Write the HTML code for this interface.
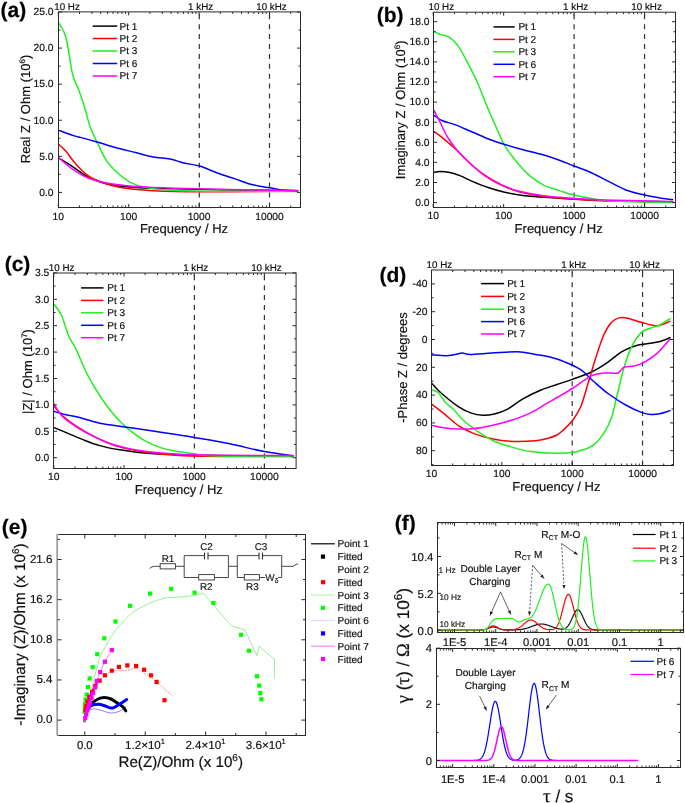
<!DOCTYPE html>
<html><head><meta charset="utf-8"><style>html,body{margin:0;padding:0;background:#fff;width:685px;height:803px;overflow:hidden}svg{display:block;will-change:transform}text{font-family:"Liberation Sans", sans-serif;text-rendering:geometricPrecision;stroke:currentColor;stroke-width:0.18px}</style></head>
<body><svg width="685" height="803" viewBox="0 0 685 803" font-family='"Liberation Sans", sans-serif'>
<rect width="685" height="803" fill="#fff"/>
<clipPath id="ca"><rect x="58.5" y="11.9" width="242" height="195.6"/></clipPath>
<line x1="199.3" y1="14.3" x2="199.3" y2="207" stroke="#333" stroke-width="1.2" stroke-dasharray="5 4.9"/>
<line x1="269.5" y1="14.3" x2="269.5" y2="207" stroke="#333" stroke-width="1.2" stroke-dasharray="5 4.9"/>
<g clip-path="url(#ca)">
<path d="M58.5,157.8 C60.83,159.27 67.25,163.23 72.5,166.6 C77.75,169.97 83.28,174.93 90,178 C96.72,181.07 104.47,183.37 112.8,185 C121.13,186.63 129.63,187.17 140,187.8 C150.37,188.43 160,188.43 175,188.8 C190,189.17 209.53,189.67 230,190 C250.47,190.33 286.5,190.67 297.8,190.8" fill="none" stroke="#000000" stroke-width="1.5" stroke-linejoin="round" stroke-linecap="round" />
<path d="M58.5,144.2 C59.82,145.45 63.77,148.7 66.4,151.7 C69.03,154.7 70.37,157.98 74.3,162.2 C78.23,166.42 83.58,173.07 90,177 C96.42,180.93 105.5,183.75 112.8,185.8 C120.1,187.85 123.43,188.33 133.8,189.3 C144.17,190.27 158.97,191.18 175,191.6 C191.03,192.02 209.53,191.87 230,191.8 C250.47,191.73 286.5,191.3 297.8,191.2" fill="none" stroke="#ff0000" stroke-width="1.5" stroke-linejoin="round" stroke-linecap="round" />
<path d="M58.5,22.6 C59.73,25.03 63.57,28.63 65.9,37.2 C68.23,45.77 70.37,65.25 72.5,74 C74.63,82.75 76.65,84.03 78.7,89.7 C80.75,95.37 82.92,101.9 84.8,108 C86.68,114.1 87.97,120.63 90,126.3 C92.03,131.97 94.37,136.45 97,142 C99.63,147.55 102.58,154.63 105.8,159.6 C109.02,164.57 112.22,168.02 116.3,171.8 C120.38,175.58 125.35,179.67 130.3,182.3 C135.25,184.93 138.55,186.22 146,187.6 C153.45,188.98 162.67,190 175,190.6 C187.33,191.2 199.53,191.07 220,191.2 C240.47,191.33 284.83,191.37 297.8,191.4" fill="none" stroke="#22ee22" stroke-width="1.5" stroke-linejoin="round" stroke-linecap="round" />
<path d="M58.5,130.1 C61.13,131.07 70.5,134.65 74.3,135.9 C78.1,137.15 77.52,136.58 81.3,137.6 C85.08,138.62 91.45,140.38 97,142 C102.55,143.62 108.17,145.53 114.6,147.3 C121.03,149.07 129.2,150.98 135.6,152.6 C142,154.22 147.27,155.93 153,157 C158.73,158.07 164.87,158 170,159 C175.13,160 178.87,161.83 183.8,163 C188.73,164.17 194.02,164.33 199.6,166 C205.18,167.67 211.4,170.85 217.3,173 C223.2,175.15 229.08,176.93 235,178.9 C240.92,180.87 247.05,183.33 252.8,184.8 C258.55,186.27 264.9,186.88 269.5,187.7 C274.1,188.52 275.82,189.18 280.4,189.7 C284.98,190.22 294.23,190.62 297,190.8" fill="none" stroke="#0000ff" stroke-width="1.5" stroke-linejoin="round" stroke-linecap="round" />
<path d="M58.5,157.5 C60.83,159.45 67.25,165.65 72.5,169.2 C77.75,172.75 83.28,176.33 90,178.8 C96.72,181.27 104.47,182.67 112.8,184 C121.13,185.33 129.63,186.1 140,186.8 C150.37,187.5 160,187.77 175,188.2 C190,188.63 209.53,189 230,189.4 C250.47,189.8 286.5,190.4 297.8,190.6" fill="none" stroke="#ff00ff" stroke-width="1.5" stroke-linejoin="round" stroke-linecap="round" />
</g>
<rect x="58.5" y="11.9" width="242" height="195.6" fill="none" stroke="#2a2a2a" stroke-width="1"/>
<line x1="58.3" y1="207.5" x2="58.3" y2="204" stroke="#2a2a2a" stroke-width="1" />
<line x1="58.3" y1="11.9" x2="58.3" y2="15.4" stroke="#2a2a2a" stroke-width="1" />
<line x1="128.7" y1="207.5" x2="128.7" y2="204" stroke="#2a2a2a" stroke-width="1" />
<line x1="128.7" y1="11.9" x2="128.7" y2="15.4" stroke="#2a2a2a" stroke-width="1" />
<line x1="199.1" y1="207.5" x2="199.1" y2="204" stroke="#2a2a2a" stroke-width="1" />
<line x1="199.1" y1="11.9" x2="199.1" y2="15.4" stroke="#2a2a2a" stroke-width="1" />
<line x1="269.5" y1="207.5" x2="269.5" y2="204" stroke="#2a2a2a" stroke-width="1" />
<line x1="269.5" y1="11.9" x2="269.5" y2="15.4" stroke="#2a2a2a" stroke-width="1" />
<line x1="79.49" y1="207.5" x2="79.49" y2="205.5" stroke="#2a2a2a" stroke-width="1" />
<line x1="79.49" y1="11.9" x2="79.49" y2="13.9" stroke="#2a2a2a" stroke-width="1" />
<line x1="91.89" y1="207.5" x2="91.89" y2="205.5" stroke="#2a2a2a" stroke-width="1" />
<line x1="91.89" y1="11.9" x2="91.89" y2="13.9" stroke="#2a2a2a" stroke-width="1" />
<line x1="100.69" y1="207.5" x2="100.69" y2="205.5" stroke="#2a2a2a" stroke-width="1" />
<line x1="100.69" y1="11.9" x2="100.69" y2="13.9" stroke="#2a2a2a" stroke-width="1" />
<line x1="107.51" y1="207.5" x2="107.51" y2="205.5" stroke="#2a2a2a" stroke-width="1" />
<line x1="107.51" y1="11.9" x2="107.51" y2="13.9" stroke="#2a2a2a" stroke-width="1" />
<line x1="113.08" y1="207.5" x2="113.08" y2="205.5" stroke="#2a2a2a" stroke-width="1" />
<line x1="113.08" y1="11.9" x2="113.08" y2="13.9" stroke="#2a2a2a" stroke-width="1" />
<line x1="117.79" y1="207.5" x2="117.79" y2="205.5" stroke="#2a2a2a" stroke-width="1" />
<line x1="117.79" y1="11.9" x2="117.79" y2="13.9" stroke="#2a2a2a" stroke-width="1" />
<line x1="121.88" y1="207.5" x2="121.88" y2="205.5" stroke="#2a2a2a" stroke-width="1" />
<line x1="121.88" y1="11.9" x2="121.88" y2="13.9" stroke="#2a2a2a" stroke-width="1" />
<line x1="125.48" y1="207.5" x2="125.48" y2="205.5" stroke="#2a2a2a" stroke-width="1" />
<line x1="125.48" y1="11.9" x2="125.48" y2="13.9" stroke="#2a2a2a" stroke-width="1" />
<line x1="149.89" y1="207.5" x2="149.89" y2="205.5" stroke="#2a2a2a" stroke-width="1" />
<line x1="149.89" y1="11.9" x2="149.89" y2="13.9" stroke="#2a2a2a" stroke-width="1" />
<line x1="162.29" y1="207.5" x2="162.29" y2="205.5" stroke="#2a2a2a" stroke-width="1" />
<line x1="162.29" y1="11.9" x2="162.29" y2="13.9" stroke="#2a2a2a" stroke-width="1" />
<line x1="171.09" y1="207.5" x2="171.09" y2="205.5" stroke="#2a2a2a" stroke-width="1" />
<line x1="171.09" y1="11.9" x2="171.09" y2="13.9" stroke="#2a2a2a" stroke-width="1" />
<line x1="177.91" y1="207.5" x2="177.91" y2="205.5" stroke="#2a2a2a" stroke-width="1" />
<line x1="177.91" y1="11.9" x2="177.91" y2="13.9" stroke="#2a2a2a" stroke-width="1" />
<line x1="183.48" y1="207.5" x2="183.48" y2="205.5" stroke="#2a2a2a" stroke-width="1" />
<line x1="183.48" y1="11.9" x2="183.48" y2="13.9" stroke="#2a2a2a" stroke-width="1" />
<line x1="188.19" y1="207.5" x2="188.19" y2="205.5" stroke="#2a2a2a" stroke-width="1" />
<line x1="188.19" y1="11.9" x2="188.19" y2="13.9" stroke="#2a2a2a" stroke-width="1" />
<line x1="192.28" y1="207.5" x2="192.28" y2="205.5" stroke="#2a2a2a" stroke-width="1" />
<line x1="192.28" y1="11.9" x2="192.28" y2="13.9" stroke="#2a2a2a" stroke-width="1" />
<line x1="195.88" y1="207.5" x2="195.88" y2="205.5" stroke="#2a2a2a" stroke-width="1" />
<line x1="195.88" y1="11.9" x2="195.88" y2="13.9" stroke="#2a2a2a" stroke-width="1" />
<line x1="220.29" y1="207.5" x2="220.29" y2="205.5" stroke="#2a2a2a" stroke-width="1" />
<line x1="220.29" y1="11.9" x2="220.29" y2="13.9" stroke="#2a2a2a" stroke-width="1" />
<line x1="232.69" y1="207.5" x2="232.69" y2="205.5" stroke="#2a2a2a" stroke-width="1" />
<line x1="232.69" y1="11.9" x2="232.69" y2="13.9" stroke="#2a2a2a" stroke-width="1" />
<line x1="241.49" y1="207.5" x2="241.49" y2="205.5" stroke="#2a2a2a" stroke-width="1" />
<line x1="241.49" y1="11.9" x2="241.49" y2="13.9" stroke="#2a2a2a" stroke-width="1" />
<line x1="248.31" y1="207.5" x2="248.31" y2="205.5" stroke="#2a2a2a" stroke-width="1" />
<line x1="248.31" y1="11.9" x2="248.31" y2="13.9" stroke="#2a2a2a" stroke-width="1" />
<line x1="253.88" y1="207.5" x2="253.88" y2="205.5" stroke="#2a2a2a" stroke-width="1" />
<line x1="253.88" y1="11.9" x2="253.88" y2="13.9" stroke="#2a2a2a" stroke-width="1" />
<line x1="258.59" y1="207.5" x2="258.59" y2="205.5" stroke="#2a2a2a" stroke-width="1" />
<line x1="258.59" y1="11.9" x2="258.59" y2="13.9" stroke="#2a2a2a" stroke-width="1" />
<line x1="262.68" y1="207.5" x2="262.68" y2="205.5" stroke="#2a2a2a" stroke-width="1" />
<line x1="262.68" y1="11.9" x2="262.68" y2="13.9" stroke="#2a2a2a" stroke-width="1" />
<line x1="266.28" y1="207.5" x2="266.28" y2="205.5" stroke="#2a2a2a" stroke-width="1" />
<line x1="266.28" y1="11.9" x2="266.28" y2="13.9" stroke="#2a2a2a" stroke-width="1" />
<line x1="290.69" y1="207.5" x2="290.69" y2="205.5" stroke="#2a2a2a" stroke-width="1" />
<line x1="290.69" y1="11.9" x2="290.69" y2="13.9" stroke="#2a2a2a" stroke-width="1" />
<line x1="58.5" y1="192.4" x2="62" y2="192.4" stroke="#2a2a2a" stroke-width="1" />
<line x1="300.5" y1="192.4" x2="297" y2="192.4" stroke="#2a2a2a" stroke-width="1" />
<line x1="58.5" y1="156.32" x2="62" y2="156.32" stroke="#2a2a2a" stroke-width="1" />
<line x1="300.5" y1="156.32" x2="297" y2="156.32" stroke="#2a2a2a" stroke-width="1" />
<line x1="58.5" y1="120.24" x2="62" y2="120.24" stroke="#2a2a2a" stroke-width="1" />
<line x1="300.5" y1="120.24" x2="297" y2="120.24" stroke="#2a2a2a" stroke-width="1" />
<line x1="58.5" y1="84.16" x2="62" y2="84.16" stroke="#2a2a2a" stroke-width="1" />
<line x1="300.5" y1="84.16" x2="297" y2="84.16" stroke="#2a2a2a" stroke-width="1" />
<line x1="58.5" y1="48.08" x2="62" y2="48.08" stroke="#2a2a2a" stroke-width="1" />
<line x1="300.5" y1="48.08" x2="297" y2="48.08" stroke="#2a2a2a" stroke-width="1" />
<line x1="58.5" y1="12" x2="62" y2="12" stroke="#2a2a2a" stroke-width="1" />
<line x1="300.5" y1="12" x2="297" y2="12" stroke="#2a2a2a" stroke-width="1" />
<line x1="58.5" y1="174.36" x2="60.5" y2="174.36" stroke="#2a2a2a" stroke-width="1" />
<line x1="300.5" y1="174.36" x2="298.5" y2="174.36" stroke="#2a2a2a" stroke-width="1" />
<line x1="58.5" y1="138.28" x2="60.5" y2="138.28" stroke="#2a2a2a" stroke-width="1" />
<line x1="300.5" y1="138.28" x2="298.5" y2="138.28" stroke="#2a2a2a" stroke-width="1" />
<line x1="58.5" y1="102.2" x2="60.5" y2="102.2" stroke="#2a2a2a" stroke-width="1" />
<line x1="300.5" y1="102.2" x2="298.5" y2="102.2" stroke="#2a2a2a" stroke-width="1" />
<line x1="58.5" y1="66.12" x2="60.5" y2="66.12" stroke="#2a2a2a" stroke-width="1" />
<line x1="300.5" y1="66.12" x2="298.5" y2="66.12" stroke="#2a2a2a" stroke-width="1" />
<line x1="58.5" y1="30.04" x2="60.5" y2="30.04" stroke="#2a2a2a" stroke-width="1" />
<line x1="300.5" y1="30.04" x2="298.5" y2="30.04" stroke="#2a2a2a" stroke-width="1" />
<text x="53.6" y="195.7" font-size="10.3" text-anchor="end" font-weight="normal" fill="#111" color="#111" >0.0</text>
<text x="53.6" y="159.62" font-size="10.3" text-anchor="end" font-weight="normal" fill="#111" color="#111" >5.0</text>
<text x="53.6" y="123.54" font-size="10.3" text-anchor="end" font-weight="normal" fill="#111" color="#111" >10.0</text>
<text x="53.6" y="87.46" font-size="10.3" text-anchor="end" font-weight="normal" fill="#111" color="#111" >15.0</text>
<text x="53.6" y="51.38" font-size="10.3" text-anchor="end" font-weight="normal" fill="#111" color="#111" >20.0</text>
<text x="53.6" y="15.3" font-size="10.3" text-anchor="end" font-weight="normal" fill="#111" color="#111" >25.0</text>
<text x="58.3" y="219.6" font-size="10.3" text-anchor="middle" font-weight="normal" fill="#111" color="#111" >10</text>
<text x="128.7" y="219.6" font-size="10.3" text-anchor="middle" font-weight="normal" fill="#111" color="#111" >100</text>
<text x="199.1" y="219.6" font-size="10.3" text-anchor="middle" font-weight="normal" fill="#111" color="#111" >1000</text>
<text x="269.5" y="219.6" font-size="10.3" text-anchor="middle" font-weight="normal" fill="#111" color="#111" >10000</text>
<text x="184" y="232.7" font-size="13" text-anchor="middle" font-weight="normal" fill="#111" color="#111" >Frequency / Hz</text>
<text transform="translate(30.3,109) rotate(-90)" font-size="13" text-anchor="middle" fill="#111" color="#111">Real Z / Ohm (10<tspan font-size="8" dy="-5">6</tspan><tspan dy="5">)</tspan></text>
<text x="54.2" y="9.8" font-size="9.8" text-anchor="start" font-weight="normal" fill="#111" color="#111" >10 Hz</text>
<text x="200.6" y="9.8" font-size="9.8" text-anchor="middle" font-weight="normal" fill="#111" color="#111" >1 kHz</text>
<text x="271.5" y="9.8" font-size="9.8" text-anchor="middle" font-weight="normal" fill="#111" color="#111" >10 kHz</text>
<text x="0.6" y="16.7" font-size="21" text-anchor="start" font-weight="bold" fill="#000" color="#000" >(a)</text>
<line x1="92.7" y1="26.1" x2="117.2" y2="26.1" stroke="#000000" stroke-width="1.5" />
<text x="119.5" y="29.5" font-size="10" text-anchor="start" font-weight="normal" fill="#111" color="#111" >Pt 1</text>
<line x1="92.7" y1="38.5" x2="117.2" y2="38.5" stroke="#ff0000" stroke-width="1.5" />
<text x="119.5" y="41.9" font-size="10" text-anchor="start" font-weight="normal" fill="#111" color="#111" >Pt 2</text>
<line x1="92.7" y1="51" x2="117.2" y2="51" stroke="#22ee22" stroke-width="1.5" />
<text x="119.5" y="54.4" font-size="10" text-anchor="start" font-weight="normal" fill="#111" color="#111" >Pt 3</text>
<line x1="92.7" y1="63.5" x2="117.2" y2="63.5" stroke="#0000ff" stroke-width="1.5" />
<text x="119.5" y="66.9" font-size="10" text-anchor="start" font-weight="normal" fill="#111" color="#111" >Pt 6</text>
<line x1="92.7" y1="76" x2="117.2" y2="76" stroke="#ff00ff" stroke-width="1.5" />
<text x="119.5" y="79.4" font-size="10" text-anchor="start" font-weight="normal" fill="#111" color="#111" >Pt 7</text>
<clipPath id="cb"><rect x="433.5" y="12.2" width="242" height="195.3"/></clipPath>
<line x1="574.1" y1="14.3" x2="574.1" y2="207" stroke="#333" stroke-width="1.2" stroke-dasharray="5 4.9"/>
<line x1="644.55" y1="14.3" x2="644.55" y2="207" stroke="#333" stroke-width="1.2" stroke-dasharray="5 4.9"/>
<g clip-path="url(#cb)">
<path d="M433.5,172.4 C434.58,172.23 437.27,171.4 440,171.4 C442.73,171.4 446.58,171.7 449.9,172.4 C453.22,173.1 456.17,174.1 459.9,175.6 C463.63,177.1 467.73,179.45 472.3,181.4 C476.87,183.35 481.9,185.48 487.3,187.3 C492.7,189.12 498.48,190.88 504.7,192.3 C510.92,193.72 517.95,194.97 524.6,195.8 C531.25,196.63 538.78,196.88 544.6,197.3 C550.42,197.72 550.27,197.77 559.5,198.3 C568.73,198.83 581.15,199.92 600,200.5 C618.85,201.08 660.5,201.58 672.6,201.8" fill="none" stroke="#000000" stroke-width="1.5" stroke-linejoin="round" stroke-linecap="round" />
<path d="M433.5,131.3 C434.58,132.05 437.68,134.02 440,135.8 C442.32,137.58 444.5,139.52 447.4,142 C450.3,144.48 453.65,147.17 457.4,150.7 C461.15,154.23 465.33,159.05 469.9,163.2 C474.47,167.35 479.83,172.08 484.8,175.6 C489.77,179.12 494.3,181.68 499.7,184.3 C505.1,186.92 510.13,189.3 517.2,191.3 C524.27,193.3 535.05,195.18 542.1,196.3 C549.15,197.42 549.85,197.3 559.5,198 C569.15,198.7 581.15,199.83 600,200.5 C618.85,201.17 660.5,201.75 672.6,202" fill="none" stroke="#ff0000" stroke-width="1.5" stroke-linejoin="round" stroke-linecap="round" />
<path d="M433.5,31.2 C434.78,31.82 438.67,33.95 441.2,34.9 C443.73,35.85 446,35.23 448.7,36.9 C451.4,38.57 454.28,40.67 457.4,44.9 C460.52,49.13 464.08,56.08 467.4,62.3 C470.72,68.52 473.98,74.73 477.3,82.2 C480.62,89.67 483.98,99.22 487.3,107.1 C490.62,114.98 494.3,123.07 497.2,129.5 C500.1,135.93 501.78,140.72 504.7,145.7 C507.62,150.68 510.55,154.42 514.7,159.4 C518.85,164.38 524.62,171.23 529.6,175.6 C534.58,179.97 539.62,183.1 544.6,185.6 C549.58,188.1 554.6,189.03 559.5,190.6 C564.4,192.17 568.42,193.63 574,195 C579.58,196.37 586.67,197.8 593,198.8 C599.33,199.8 598.73,200.37 612,201 C625.27,201.63 662.5,202.33 672.6,202.6" fill="none" stroke="#22ee22" stroke-width="1.5" stroke-linejoin="round" stroke-linecap="round" />
<path d="M433.5,115.1 C435,116.05 438.93,119.22 442.5,120.8 C446.07,122.38 449.93,122.73 454.9,124.6 C459.87,126.47 466.48,129.52 472.3,132 C478.12,134.48 484.4,137.42 489.8,139.5 C495.2,141.58 499.3,142.83 504.7,144.5 C510.1,146.17 515.97,147.83 522.2,149.5 C528.43,151.17 535.88,152.72 542.1,154.5 C548.32,156.28 554.18,158.28 559.5,160.2 C564.82,162.12 569.05,164.08 574,166 C578.95,167.92 583.52,169.17 589.2,171.7 C594.88,174.23 602.1,178.2 608.1,181.2 C614.1,184.2 619.12,187.4 625.2,189.7 C631.28,192 638.58,193.58 644.6,195 C650.62,196.42 656.63,197.43 661.3,198.2 C665.97,198.97 670.72,199.37 672.6,199.6" fill="none" stroke="#0000ff" stroke-width="1.5" stroke-linejoin="round" stroke-linecap="round" />
<path d="M433.5,109.6 C434.58,111.68 437.68,117.53 440,122.1 C442.32,126.67 444.5,132.23 447.4,137 C450.3,141.77 453.65,146.33 457.4,150.7 C461.15,155.07 465.33,159.12 469.9,163.2 C474.47,167.28 479.83,171.77 484.8,175.2 C489.77,178.63 494.3,181.2 499.7,183.8 C505.1,186.4 510.13,188.83 517.2,190.8 C524.27,192.77 535.05,194.52 542.1,195.6 C549.15,196.68 549.85,196.6 559.5,197.3 C569.15,198 581.15,199.1 600,199.8 C618.85,200.5 660.5,201.22 672.6,201.5" fill="none" stroke="#ff00ff" stroke-width="1.5" stroke-linejoin="round" stroke-linecap="round" />
</g>
<rect x="433.5" y="12.2" width="242" height="195.3" fill="none" stroke="#2a2a2a" stroke-width="1"/>
<line x1="433.2" y1="207.5" x2="433.2" y2="204" stroke="#2a2a2a" stroke-width="1" />
<line x1="433.2" y1="12.2" x2="433.2" y2="15.7" stroke="#2a2a2a" stroke-width="1" />
<line x1="503.65" y1="207.5" x2="503.65" y2="204" stroke="#2a2a2a" stroke-width="1" />
<line x1="503.65" y1="12.2" x2="503.65" y2="15.7" stroke="#2a2a2a" stroke-width="1" />
<line x1="574.1" y1="207.5" x2="574.1" y2="204" stroke="#2a2a2a" stroke-width="1" />
<line x1="574.1" y1="12.2" x2="574.1" y2="15.7" stroke="#2a2a2a" stroke-width="1" />
<line x1="644.55" y1="207.5" x2="644.55" y2="204" stroke="#2a2a2a" stroke-width="1" />
<line x1="644.55" y1="12.2" x2="644.55" y2="15.7" stroke="#2a2a2a" stroke-width="1" />
<line x1="454.41" y1="207.5" x2="454.41" y2="205.5" stroke="#2a2a2a" stroke-width="1" />
<line x1="454.41" y1="12.2" x2="454.41" y2="14.2" stroke="#2a2a2a" stroke-width="1" />
<line x1="466.81" y1="207.5" x2="466.81" y2="205.5" stroke="#2a2a2a" stroke-width="1" />
<line x1="466.81" y1="12.2" x2="466.81" y2="14.2" stroke="#2a2a2a" stroke-width="1" />
<line x1="475.62" y1="207.5" x2="475.62" y2="205.5" stroke="#2a2a2a" stroke-width="1" />
<line x1="475.62" y1="12.2" x2="475.62" y2="14.2" stroke="#2a2a2a" stroke-width="1" />
<line x1="482.44" y1="207.5" x2="482.44" y2="205.5" stroke="#2a2a2a" stroke-width="1" />
<line x1="482.44" y1="12.2" x2="482.44" y2="14.2" stroke="#2a2a2a" stroke-width="1" />
<line x1="488.02" y1="207.5" x2="488.02" y2="205.5" stroke="#2a2a2a" stroke-width="1" />
<line x1="488.02" y1="12.2" x2="488.02" y2="14.2" stroke="#2a2a2a" stroke-width="1" />
<line x1="492.74" y1="207.5" x2="492.74" y2="205.5" stroke="#2a2a2a" stroke-width="1" />
<line x1="492.74" y1="12.2" x2="492.74" y2="14.2" stroke="#2a2a2a" stroke-width="1" />
<line x1="496.82" y1="207.5" x2="496.82" y2="205.5" stroke="#2a2a2a" stroke-width="1" />
<line x1="496.82" y1="12.2" x2="496.82" y2="14.2" stroke="#2a2a2a" stroke-width="1" />
<line x1="500.43" y1="207.5" x2="500.43" y2="205.5" stroke="#2a2a2a" stroke-width="1" />
<line x1="500.43" y1="12.2" x2="500.43" y2="14.2" stroke="#2a2a2a" stroke-width="1" />
<line x1="524.86" y1="207.5" x2="524.86" y2="205.5" stroke="#2a2a2a" stroke-width="1" />
<line x1="524.86" y1="12.2" x2="524.86" y2="14.2" stroke="#2a2a2a" stroke-width="1" />
<line x1="537.26" y1="207.5" x2="537.26" y2="205.5" stroke="#2a2a2a" stroke-width="1" />
<line x1="537.26" y1="12.2" x2="537.26" y2="14.2" stroke="#2a2a2a" stroke-width="1" />
<line x1="546.07" y1="207.5" x2="546.07" y2="205.5" stroke="#2a2a2a" stroke-width="1" />
<line x1="546.07" y1="12.2" x2="546.07" y2="14.2" stroke="#2a2a2a" stroke-width="1" />
<line x1="552.89" y1="207.5" x2="552.89" y2="205.5" stroke="#2a2a2a" stroke-width="1" />
<line x1="552.89" y1="12.2" x2="552.89" y2="14.2" stroke="#2a2a2a" stroke-width="1" />
<line x1="558.47" y1="207.5" x2="558.47" y2="205.5" stroke="#2a2a2a" stroke-width="1" />
<line x1="558.47" y1="12.2" x2="558.47" y2="14.2" stroke="#2a2a2a" stroke-width="1" />
<line x1="563.19" y1="207.5" x2="563.19" y2="205.5" stroke="#2a2a2a" stroke-width="1" />
<line x1="563.19" y1="12.2" x2="563.19" y2="14.2" stroke="#2a2a2a" stroke-width="1" />
<line x1="567.27" y1="207.5" x2="567.27" y2="205.5" stroke="#2a2a2a" stroke-width="1" />
<line x1="567.27" y1="12.2" x2="567.27" y2="14.2" stroke="#2a2a2a" stroke-width="1" />
<line x1="570.88" y1="207.5" x2="570.88" y2="205.5" stroke="#2a2a2a" stroke-width="1" />
<line x1="570.88" y1="12.2" x2="570.88" y2="14.2" stroke="#2a2a2a" stroke-width="1" />
<line x1="595.31" y1="207.5" x2="595.31" y2="205.5" stroke="#2a2a2a" stroke-width="1" />
<line x1="595.31" y1="12.2" x2="595.31" y2="14.2" stroke="#2a2a2a" stroke-width="1" />
<line x1="607.71" y1="207.5" x2="607.71" y2="205.5" stroke="#2a2a2a" stroke-width="1" />
<line x1="607.71" y1="12.2" x2="607.71" y2="14.2" stroke="#2a2a2a" stroke-width="1" />
<line x1="616.52" y1="207.5" x2="616.52" y2="205.5" stroke="#2a2a2a" stroke-width="1" />
<line x1="616.52" y1="12.2" x2="616.52" y2="14.2" stroke="#2a2a2a" stroke-width="1" />
<line x1="623.34" y1="207.5" x2="623.34" y2="205.5" stroke="#2a2a2a" stroke-width="1" />
<line x1="623.34" y1="12.2" x2="623.34" y2="14.2" stroke="#2a2a2a" stroke-width="1" />
<line x1="628.92" y1="207.5" x2="628.92" y2="205.5" stroke="#2a2a2a" stroke-width="1" />
<line x1="628.92" y1="12.2" x2="628.92" y2="14.2" stroke="#2a2a2a" stroke-width="1" />
<line x1="633.64" y1="207.5" x2="633.64" y2="205.5" stroke="#2a2a2a" stroke-width="1" />
<line x1="633.64" y1="12.2" x2="633.64" y2="14.2" stroke="#2a2a2a" stroke-width="1" />
<line x1="637.72" y1="207.5" x2="637.72" y2="205.5" stroke="#2a2a2a" stroke-width="1" />
<line x1="637.72" y1="12.2" x2="637.72" y2="14.2" stroke="#2a2a2a" stroke-width="1" />
<line x1="641.33" y1="207.5" x2="641.33" y2="205.5" stroke="#2a2a2a" stroke-width="1" />
<line x1="641.33" y1="12.2" x2="641.33" y2="14.2" stroke="#2a2a2a" stroke-width="1" />
<line x1="665.76" y1="207.5" x2="665.76" y2="205.5" stroke="#2a2a2a" stroke-width="1" />
<line x1="665.76" y1="12.2" x2="665.76" y2="14.2" stroke="#2a2a2a" stroke-width="1" />
<line x1="433.5" y1="202.6" x2="437" y2="202.6" stroke="#2a2a2a" stroke-width="1" />
<line x1="675.5" y1="202.6" x2="672" y2="202.6" stroke="#2a2a2a" stroke-width="1" />
<line x1="433.5" y1="182.5" x2="437" y2="182.5" stroke="#2a2a2a" stroke-width="1" />
<line x1="675.5" y1="182.5" x2="672" y2="182.5" stroke="#2a2a2a" stroke-width="1" />
<line x1="433.5" y1="162.4" x2="437" y2="162.4" stroke="#2a2a2a" stroke-width="1" />
<line x1="675.5" y1="162.4" x2="672" y2="162.4" stroke="#2a2a2a" stroke-width="1" />
<line x1="433.5" y1="142.3" x2="437" y2="142.3" stroke="#2a2a2a" stroke-width="1" />
<line x1="675.5" y1="142.3" x2="672" y2="142.3" stroke="#2a2a2a" stroke-width="1" />
<line x1="433.5" y1="122.2" x2="437" y2="122.2" stroke="#2a2a2a" stroke-width="1" />
<line x1="675.5" y1="122.2" x2="672" y2="122.2" stroke="#2a2a2a" stroke-width="1" />
<line x1="433.5" y1="102.1" x2="437" y2="102.1" stroke="#2a2a2a" stroke-width="1" />
<line x1="675.5" y1="102.1" x2="672" y2="102.1" stroke="#2a2a2a" stroke-width="1" />
<line x1="433.5" y1="82" x2="437" y2="82" stroke="#2a2a2a" stroke-width="1" />
<line x1="675.5" y1="82" x2="672" y2="82" stroke="#2a2a2a" stroke-width="1" />
<line x1="433.5" y1="61.9" x2="437" y2="61.9" stroke="#2a2a2a" stroke-width="1" />
<line x1="675.5" y1="61.9" x2="672" y2="61.9" stroke="#2a2a2a" stroke-width="1" />
<line x1="433.5" y1="41.8" x2="437" y2="41.8" stroke="#2a2a2a" stroke-width="1" />
<line x1="675.5" y1="41.8" x2="672" y2="41.8" stroke="#2a2a2a" stroke-width="1" />
<line x1="433.5" y1="21.7" x2="437" y2="21.7" stroke="#2a2a2a" stroke-width="1" />
<line x1="675.5" y1="21.7" x2="672" y2="21.7" stroke="#2a2a2a" stroke-width="1" />
<line x1="433.5" y1="192.55" x2="435.5" y2="192.55" stroke="#2a2a2a" stroke-width="1" />
<line x1="675.5" y1="192.55" x2="673.5" y2="192.55" stroke="#2a2a2a" stroke-width="1" />
<line x1="433.5" y1="172.45" x2="435.5" y2="172.45" stroke="#2a2a2a" stroke-width="1" />
<line x1="675.5" y1="172.45" x2="673.5" y2="172.45" stroke="#2a2a2a" stroke-width="1" />
<line x1="433.5" y1="152.35" x2="435.5" y2="152.35" stroke="#2a2a2a" stroke-width="1" />
<line x1="675.5" y1="152.35" x2="673.5" y2="152.35" stroke="#2a2a2a" stroke-width="1" />
<line x1="433.5" y1="132.25" x2="435.5" y2="132.25" stroke="#2a2a2a" stroke-width="1" />
<line x1="675.5" y1="132.25" x2="673.5" y2="132.25" stroke="#2a2a2a" stroke-width="1" />
<line x1="433.5" y1="112.15" x2="435.5" y2="112.15" stroke="#2a2a2a" stroke-width="1" />
<line x1="675.5" y1="112.15" x2="673.5" y2="112.15" stroke="#2a2a2a" stroke-width="1" />
<line x1="433.5" y1="92.05" x2="435.5" y2="92.05" stroke="#2a2a2a" stroke-width="1" />
<line x1="675.5" y1="92.05" x2="673.5" y2="92.05" stroke="#2a2a2a" stroke-width="1" />
<line x1="433.5" y1="71.95" x2="435.5" y2="71.95" stroke="#2a2a2a" stroke-width="1" />
<line x1="675.5" y1="71.95" x2="673.5" y2="71.95" stroke="#2a2a2a" stroke-width="1" />
<line x1="433.5" y1="51.85" x2="435.5" y2="51.85" stroke="#2a2a2a" stroke-width="1" />
<line x1="675.5" y1="51.85" x2="673.5" y2="51.85" stroke="#2a2a2a" stroke-width="1" />
<line x1="433.5" y1="31.75" x2="435.5" y2="31.75" stroke="#2a2a2a" stroke-width="1" />
<line x1="675.5" y1="31.75" x2="673.5" y2="31.75" stroke="#2a2a2a" stroke-width="1" />
<text x="429.6" y="205.9" font-size="10.3" text-anchor="end" font-weight="normal" fill="#111" color="#111" >0.0</text>
<text x="429.6" y="185.8" font-size="10.3" text-anchor="end" font-weight="normal" fill="#111" color="#111" >2.0</text>
<text x="429.6" y="165.7" font-size="10.3" text-anchor="end" font-weight="normal" fill="#111" color="#111" >4.0</text>
<text x="429.6" y="145.6" font-size="10.3" text-anchor="end" font-weight="normal" fill="#111" color="#111" >6.0</text>
<text x="429.6" y="125.5" font-size="10.3" text-anchor="end" font-weight="normal" fill="#111" color="#111" >8.0</text>
<text x="429.6" y="105.4" font-size="10.3" text-anchor="end" font-weight="normal" fill="#111" color="#111" >10.0</text>
<text x="429.6" y="85.3" font-size="10.3" text-anchor="end" font-weight="normal" fill="#111" color="#111" >12.0</text>
<text x="429.6" y="65.2" font-size="10.3" text-anchor="end" font-weight="normal" fill="#111" color="#111" >14.0</text>
<text x="429.6" y="45.1" font-size="10.3" text-anchor="end" font-weight="normal" fill="#111" color="#111" >16.0</text>
<text x="429.6" y="25" font-size="10.3" text-anchor="end" font-weight="normal" fill="#111" color="#111" >18.0</text>
<text x="433.2" y="219.4" font-size="10.3" text-anchor="middle" font-weight="normal" fill="#111" color="#111" >10</text>
<text x="503.65" y="219.4" font-size="10.3" text-anchor="middle" font-weight="normal" fill="#111" color="#111" >100</text>
<text x="574.1" y="219.4" font-size="10.3" text-anchor="middle" font-weight="normal" fill="#111" color="#111" >1000</text>
<text x="644.55" y="219.4" font-size="10.3" text-anchor="middle" font-weight="normal" fill="#111" color="#111" >10000</text>
<text x="558.7" y="233" font-size="13" text-anchor="middle" font-weight="normal" fill="#111" color="#111" >Frequency / Hz</text>
<text transform="translate(404.5,109.8) rotate(-90)" font-size="13" text-anchor="middle" fill="#111" color="#111">Imaginary Z / Ohm (10<tspan font-size="8" dy="-5">6</tspan><tspan dy="5">)</tspan></text>
<text x="428.5" y="9.8" font-size="9.8" text-anchor="start" font-weight="normal" fill="#111" color="#111" >10 Hz</text>
<text x="575.6" y="9.8" font-size="9.8" text-anchor="middle" font-weight="normal" fill="#111" color="#111" >1 kHz</text>
<text x="646.55" y="9.8" font-size="9.8" text-anchor="middle" font-weight="normal" fill="#111" color="#111" >10 kHz</text>
<text x="376.7" y="21.6" font-size="21" text-anchor="start" font-weight="bold" fill="#000" color="#000" >(b)</text>
<line x1="493.5" y1="26.9" x2="514.7" y2="26.9" stroke="#000000" stroke-width="1.5" />
<text x="518.4" y="30.3" font-size="10" text-anchor="start" font-weight="normal" fill="#111" color="#111" >Pt 1</text>
<line x1="493.5" y1="39.4" x2="514.7" y2="39.4" stroke="#ff0000" stroke-width="1.5" />
<text x="518.4" y="42.8" font-size="10" text-anchor="start" font-weight="normal" fill="#111" color="#111" >Pt 2</text>
<line x1="493.5" y1="51.8" x2="514.7" y2="51.8" stroke="#22ee22" stroke-width="1.5" />
<text x="518.4" y="55.2" font-size="10" text-anchor="start" font-weight="normal" fill="#111" color="#111" >Pt 3</text>
<line x1="493.5" y1="64.3" x2="514.7" y2="64.3" stroke="#0000ff" stroke-width="1.5" />
<text x="518.4" y="67.7" font-size="10" text-anchor="start" font-weight="normal" fill="#111" color="#111" >Pt 6</text>
<line x1="493.5" y1="76.7" x2="514.7" y2="76.7" stroke="#ff00ff" stroke-width="1.5" />
<text x="518.4" y="80.1" font-size="10" text-anchor="start" font-weight="normal" fill="#111" color="#111" >Pt 7</text>
<clipPath id="cc"><rect x="53.5" y="273.0" width="242.60000000000002" height="195.5"/></clipPath>
<line x1="194.4" y1="275.3" x2="194.4" y2="468" stroke="#333" stroke-width="1.2" stroke-dasharray="5 4.9"/>
<line x1="264.4" y1="275.3" x2="264.4" y2="468" stroke="#333" stroke-width="1.2" stroke-dasharray="5 4.9"/>
<g clip-path="url(#cc)">
<path d="M53.5,427.4 C55.82,428.35 62.58,431.1 67.4,433.1 C72.22,435.1 77,437.32 82.4,439.4 C87.8,441.48 93.58,443.87 99.8,445.6 C106.02,447.33 112.23,448.55 119.7,449.8 C127.17,451.05 134.63,452.27 144.6,453.1 C154.57,453.93 165.27,454.35 179.5,454.8 C193.73,455.25 211.08,455.6 230,455.8 C248.92,456 282.5,455.97 293,456" fill="none" stroke="#000000" stroke-width="1.5" stroke-linejoin="round" stroke-linecap="round" />
<path d="M53.5,405.7 C55,407.37 58.52,412.17 62.5,415.7 C66.48,419.23 72.02,423.37 77.4,426.9 C82.78,430.43 88.57,433.78 94.8,436.9 C101.03,440.02 107.32,443.2 114.8,445.6 C122.28,448 128.92,449.63 139.7,451.3 C150.48,452.97 164.45,454.73 179.5,455.6 C194.55,456.47 211.08,456.4 230,456.5 C248.92,456.6 282.5,456.25 293,456.2" fill="none" stroke="#ff0000" stroke-width="1.5" stroke-linejoin="round" stroke-linecap="round" />
<path d="M53.5,303.6 C54.78,305.47 58.67,309.4 61.2,314.8 C63.73,320.2 66.2,330.18 68.7,336 C71.2,341.82 73.08,343.27 76.2,349.7 C79.32,356.13 83.05,366.3 87.4,374.6 C91.75,382.9 97.73,392.65 102.3,399.5 C106.87,406.35 110.65,410.92 114.8,415.7 C118.95,420.48 122.23,424.05 127.2,428.2 C132.17,432.35 138.78,437.28 144.6,440.6 C150.42,443.92 156.28,446.23 162.1,448.1 C167.92,449.97 174.15,450.85 179.5,451.8 C184.85,452.75 188.87,453.15 194.2,453.8 C199.53,454.45 195.03,455.2 211.5,455.7 C227.97,456.2 279.42,456.62 293,456.8" fill="none" stroke="#22ee22" stroke-width="1.5" stroke-linejoin="round" stroke-linecap="round" />
<path d="M53.5,411.2 C55.4,411.75 60.92,413.53 64.9,414.5 C68.88,415.47 71.58,415.55 77.4,417 C83.22,418.45 91.92,421.55 99.8,423.2 C107.68,424.85 116.4,425.67 124.7,426.9 C133,428.13 140.47,429.25 149.6,430.6 C158.73,431.95 172.07,433.87 179.5,435 C186.93,436.13 185.83,435.93 194.2,437.4 C202.57,438.87 218,441.43 229.7,443.8 C241.4,446.17 253.9,449.62 264.4,451.6 C274.9,453.58 287.98,455.02 292.7,455.7" fill="none" stroke="#0000ff" stroke-width="1.5" stroke-linejoin="round" stroke-linecap="round" />
<path d="M53.5,403.2 C55,405.42 58.52,412.45 62.5,416.5 C66.48,420.55 72.02,424.1 77.4,427.5 C82.78,430.9 88.57,433.98 94.8,436.9 C101.03,439.82 107.32,442.72 114.8,445 C122.28,447.28 128.92,449.05 139.7,450.6 C150.48,452.15 164.45,453.52 179.5,454.3 C194.55,455.08 211.08,455.1 230,455.3 C248.92,455.5 282.5,455.47 293,455.5" fill="none" stroke="#ff00ff" stroke-width="1.5" stroke-linejoin="round" stroke-linecap="round" />
</g>
<rect x="53.5" y="273" width="242.6" height="195.5" fill="none" stroke="#2a2a2a" stroke-width="1"/>
<line x1="53.8" y1="468.5" x2="53.8" y2="465" stroke="#2a2a2a" stroke-width="1" />
<line x1="53.8" y1="273" x2="53.8" y2="276.5" stroke="#2a2a2a" stroke-width="1" />
<line x1="124" y1="468.5" x2="124" y2="465" stroke="#2a2a2a" stroke-width="1" />
<line x1="124" y1="273" x2="124" y2="276.5" stroke="#2a2a2a" stroke-width="1" />
<line x1="194.2" y1="468.5" x2="194.2" y2="465" stroke="#2a2a2a" stroke-width="1" />
<line x1="194.2" y1="273" x2="194.2" y2="276.5" stroke="#2a2a2a" stroke-width="1" />
<line x1="264.4" y1="468.5" x2="264.4" y2="465" stroke="#2a2a2a" stroke-width="1" />
<line x1="264.4" y1="273" x2="264.4" y2="276.5" stroke="#2a2a2a" stroke-width="1" />
<line x1="74.93" y1="468.5" x2="74.93" y2="466.5" stroke="#2a2a2a" stroke-width="1" />
<line x1="74.93" y1="273" x2="74.93" y2="275" stroke="#2a2a2a" stroke-width="1" />
<line x1="87.29" y1="468.5" x2="87.29" y2="466.5" stroke="#2a2a2a" stroke-width="1" />
<line x1="87.29" y1="273" x2="87.29" y2="275" stroke="#2a2a2a" stroke-width="1" />
<line x1="96.06" y1="468.5" x2="96.06" y2="466.5" stroke="#2a2a2a" stroke-width="1" />
<line x1="96.06" y1="273" x2="96.06" y2="275" stroke="#2a2a2a" stroke-width="1" />
<line x1="102.87" y1="468.5" x2="102.87" y2="466.5" stroke="#2a2a2a" stroke-width="1" />
<line x1="102.87" y1="273" x2="102.87" y2="275" stroke="#2a2a2a" stroke-width="1" />
<line x1="108.43" y1="468.5" x2="108.43" y2="466.5" stroke="#2a2a2a" stroke-width="1" />
<line x1="108.43" y1="273" x2="108.43" y2="275" stroke="#2a2a2a" stroke-width="1" />
<line x1="113.13" y1="468.5" x2="113.13" y2="466.5" stroke="#2a2a2a" stroke-width="1" />
<line x1="113.13" y1="273" x2="113.13" y2="275" stroke="#2a2a2a" stroke-width="1" />
<line x1="117.2" y1="468.5" x2="117.2" y2="466.5" stroke="#2a2a2a" stroke-width="1" />
<line x1="117.2" y1="273" x2="117.2" y2="275" stroke="#2a2a2a" stroke-width="1" />
<line x1="120.79" y1="468.5" x2="120.79" y2="466.5" stroke="#2a2a2a" stroke-width="1" />
<line x1="120.79" y1="273" x2="120.79" y2="275" stroke="#2a2a2a" stroke-width="1" />
<line x1="145.13" y1="468.5" x2="145.13" y2="466.5" stroke="#2a2a2a" stroke-width="1" />
<line x1="145.13" y1="273" x2="145.13" y2="275" stroke="#2a2a2a" stroke-width="1" />
<line x1="157.49" y1="468.5" x2="157.49" y2="466.5" stroke="#2a2a2a" stroke-width="1" />
<line x1="157.49" y1="273" x2="157.49" y2="275" stroke="#2a2a2a" stroke-width="1" />
<line x1="166.26" y1="468.5" x2="166.26" y2="466.5" stroke="#2a2a2a" stroke-width="1" />
<line x1="166.26" y1="273" x2="166.26" y2="275" stroke="#2a2a2a" stroke-width="1" />
<line x1="173.07" y1="468.5" x2="173.07" y2="466.5" stroke="#2a2a2a" stroke-width="1" />
<line x1="173.07" y1="273" x2="173.07" y2="275" stroke="#2a2a2a" stroke-width="1" />
<line x1="178.63" y1="468.5" x2="178.63" y2="466.5" stroke="#2a2a2a" stroke-width="1" />
<line x1="178.63" y1="273" x2="178.63" y2="275" stroke="#2a2a2a" stroke-width="1" />
<line x1="183.33" y1="468.5" x2="183.33" y2="466.5" stroke="#2a2a2a" stroke-width="1" />
<line x1="183.33" y1="273" x2="183.33" y2="275" stroke="#2a2a2a" stroke-width="1" />
<line x1="187.4" y1="468.5" x2="187.4" y2="466.5" stroke="#2a2a2a" stroke-width="1" />
<line x1="187.4" y1="273" x2="187.4" y2="275" stroke="#2a2a2a" stroke-width="1" />
<line x1="190.99" y1="468.5" x2="190.99" y2="466.5" stroke="#2a2a2a" stroke-width="1" />
<line x1="190.99" y1="273" x2="190.99" y2="275" stroke="#2a2a2a" stroke-width="1" />
<line x1="215.33" y1="468.5" x2="215.33" y2="466.5" stroke="#2a2a2a" stroke-width="1" />
<line x1="215.33" y1="273" x2="215.33" y2="275" stroke="#2a2a2a" stroke-width="1" />
<line x1="227.69" y1="468.5" x2="227.69" y2="466.5" stroke="#2a2a2a" stroke-width="1" />
<line x1="227.69" y1="273" x2="227.69" y2="275" stroke="#2a2a2a" stroke-width="1" />
<line x1="236.46" y1="468.5" x2="236.46" y2="466.5" stroke="#2a2a2a" stroke-width="1" />
<line x1="236.46" y1="273" x2="236.46" y2="275" stroke="#2a2a2a" stroke-width="1" />
<line x1="243.27" y1="468.5" x2="243.27" y2="466.5" stroke="#2a2a2a" stroke-width="1" />
<line x1="243.27" y1="273" x2="243.27" y2="275" stroke="#2a2a2a" stroke-width="1" />
<line x1="248.83" y1="468.5" x2="248.83" y2="466.5" stroke="#2a2a2a" stroke-width="1" />
<line x1="248.83" y1="273" x2="248.83" y2="275" stroke="#2a2a2a" stroke-width="1" />
<line x1="253.53" y1="468.5" x2="253.53" y2="466.5" stroke="#2a2a2a" stroke-width="1" />
<line x1="253.53" y1="273" x2="253.53" y2="275" stroke="#2a2a2a" stroke-width="1" />
<line x1="257.6" y1="468.5" x2="257.6" y2="466.5" stroke="#2a2a2a" stroke-width="1" />
<line x1="257.6" y1="273" x2="257.6" y2="275" stroke="#2a2a2a" stroke-width="1" />
<line x1="261.19" y1="468.5" x2="261.19" y2="466.5" stroke="#2a2a2a" stroke-width="1" />
<line x1="261.19" y1="273" x2="261.19" y2="275" stroke="#2a2a2a" stroke-width="1" />
<line x1="285.53" y1="468.5" x2="285.53" y2="466.5" stroke="#2a2a2a" stroke-width="1" />
<line x1="285.53" y1="273" x2="285.53" y2="275" stroke="#2a2a2a" stroke-width="1" />
<line x1="53.5" y1="457.7" x2="57" y2="457.7" stroke="#2a2a2a" stroke-width="1" />
<line x1="296.1" y1="457.7" x2="292.6" y2="457.7" stroke="#2a2a2a" stroke-width="1" />
<line x1="53.5" y1="431.3" x2="57" y2="431.3" stroke="#2a2a2a" stroke-width="1" />
<line x1="296.1" y1="431.3" x2="292.6" y2="431.3" stroke="#2a2a2a" stroke-width="1" />
<line x1="53.5" y1="404.9" x2="57" y2="404.9" stroke="#2a2a2a" stroke-width="1" />
<line x1="296.1" y1="404.9" x2="292.6" y2="404.9" stroke="#2a2a2a" stroke-width="1" />
<line x1="53.5" y1="378.5" x2="57" y2="378.5" stroke="#2a2a2a" stroke-width="1" />
<line x1="296.1" y1="378.5" x2="292.6" y2="378.5" stroke="#2a2a2a" stroke-width="1" />
<line x1="53.5" y1="352.1" x2="57" y2="352.1" stroke="#2a2a2a" stroke-width="1" />
<line x1="296.1" y1="352.1" x2="292.6" y2="352.1" stroke="#2a2a2a" stroke-width="1" />
<line x1="53.5" y1="325.7" x2="57" y2="325.7" stroke="#2a2a2a" stroke-width="1" />
<line x1="296.1" y1="325.7" x2="292.6" y2="325.7" stroke="#2a2a2a" stroke-width="1" />
<line x1="53.5" y1="299.3" x2="57" y2="299.3" stroke="#2a2a2a" stroke-width="1" />
<line x1="296.1" y1="299.3" x2="292.6" y2="299.3" stroke="#2a2a2a" stroke-width="1" />
<line x1="53.5" y1="272.9" x2="57" y2="272.9" stroke="#2a2a2a" stroke-width="1" />
<line x1="296.1" y1="272.9" x2="292.6" y2="272.9" stroke="#2a2a2a" stroke-width="1" />
<line x1="53.5" y1="444.5" x2="55.5" y2="444.5" stroke="#2a2a2a" stroke-width="1" />
<line x1="296.1" y1="444.5" x2="294.1" y2="444.5" stroke="#2a2a2a" stroke-width="1" />
<line x1="53.5" y1="418.1" x2="55.5" y2="418.1" stroke="#2a2a2a" stroke-width="1" />
<line x1="296.1" y1="418.1" x2="294.1" y2="418.1" stroke="#2a2a2a" stroke-width="1" />
<line x1="53.5" y1="391.7" x2="55.5" y2="391.7" stroke="#2a2a2a" stroke-width="1" />
<line x1="296.1" y1="391.7" x2="294.1" y2="391.7" stroke="#2a2a2a" stroke-width="1" />
<line x1="53.5" y1="365.3" x2="55.5" y2="365.3" stroke="#2a2a2a" stroke-width="1" />
<line x1="296.1" y1="365.3" x2="294.1" y2="365.3" stroke="#2a2a2a" stroke-width="1" />
<line x1="53.5" y1="338.9" x2="55.5" y2="338.9" stroke="#2a2a2a" stroke-width="1" />
<line x1="296.1" y1="338.9" x2="294.1" y2="338.9" stroke="#2a2a2a" stroke-width="1" />
<line x1="53.5" y1="312.5" x2="55.5" y2="312.5" stroke="#2a2a2a" stroke-width="1" />
<line x1="296.1" y1="312.5" x2="294.1" y2="312.5" stroke="#2a2a2a" stroke-width="1" />
<line x1="53.5" y1="286.1" x2="55.5" y2="286.1" stroke="#2a2a2a" stroke-width="1" />
<line x1="296.1" y1="286.1" x2="294.1" y2="286.1" stroke="#2a2a2a" stroke-width="1" />
<text x="49.3" y="461" font-size="10.3" text-anchor="end" font-weight="normal" fill="#111" color="#111" >0.0</text>
<text x="49.3" y="434.6" font-size="10.3" text-anchor="end" font-weight="normal" fill="#111" color="#111" >0.5</text>
<text x="49.3" y="408.2" font-size="10.3" text-anchor="end" font-weight="normal" fill="#111" color="#111" >1.0</text>
<text x="49.3" y="381.8" font-size="10.3" text-anchor="end" font-weight="normal" fill="#111" color="#111" >1.5</text>
<text x="49.3" y="355.4" font-size="10.3" text-anchor="end" font-weight="normal" fill="#111" color="#111" >2.0</text>
<text x="49.3" y="329" font-size="10.3" text-anchor="end" font-weight="normal" fill="#111" color="#111" >2.5</text>
<text x="49.3" y="302.6" font-size="10.3" text-anchor="end" font-weight="normal" fill="#111" color="#111" >3.0</text>
<text x="49.3" y="276.2" font-size="10.3" text-anchor="end" font-weight="normal" fill="#111" color="#111" >3.5</text>
<text x="53.8" y="480.4" font-size="10.3" text-anchor="middle" font-weight="normal" fill="#111" color="#111" >10</text>
<text x="124" y="480.4" font-size="10.3" text-anchor="middle" font-weight="normal" fill="#111" color="#111" >100</text>
<text x="194.2" y="480.4" font-size="10.3" text-anchor="middle" font-weight="normal" fill="#111" color="#111" >1000</text>
<text x="264.4" y="480.4" font-size="10.3" text-anchor="middle" font-weight="normal" fill="#111" color="#111" >10000</text>
<text x="178.8" y="493.9" font-size="13" text-anchor="middle" font-weight="normal" fill="#111" color="#111" >Frequency / Hz</text>
<text transform="translate(32.3,371.5) rotate(-90)" font-size="13" text-anchor="middle" fill="#111" color="#111">|Z| / Ohm (10<tspan font-size="8" dy="-5">7</tspan><tspan dy="5">)</tspan></text>
<text x="48.8" y="270.8" font-size="9.8" text-anchor="start" font-weight="normal" fill="#111" color="#111" >10 Hz</text>
<text x="195.7" y="270.8" font-size="9.8" text-anchor="middle" font-weight="normal" fill="#111" color="#111" >1 kHz</text>
<text x="266.4" y="270.8" font-size="9.8" text-anchor="middle" font-weight="normal" fill="#111" color="#111" >10 kHz</text>
<text x="4.7" y="270.5" font-size="21" text-anchor="start" font-weight="bold" fill="#000" color="#000" >(c)</text>
<line x1="81.1" y1="287.9" x2="103.5" y2="287.9" stroke="#000000" stroke-width="1.5" />
<text x="107.3" y="291.3" font-size="10" text-anchor="start" font-weight="normal" fill="#111" color="#111" >Pt 1</text>
<line x1="81.1" y1="300.4" x2="103.5" y2="300.4" stroke="#ff0000" stroke-width="1.5" />
<text x="107.3" y="303.8" font-size="10" text-anchor="start" font-weight="normal" fill="#111" color="#111" >Pt 2</text>
<line x1="81.1" y1="312.8" x2="103.5" y2="312.8" stroke="#22ee22" stroke-width="1.5" />
<text x="107.3" y="316.2" font-size="10" text-anchor="start" font-weight="normal" fill="#111" color="#111" >Pt 3</text>
<line x1="81.1" y1="325.3" x2="103.5" y2="325.3" stroke="#0000ff" stroke-width="1.5" />
<text x="107.3" y="328.7" font-size="10" text-anchor="start" font-weight="normal" fill="#111" color="#111" >Pt 6</text>
<line x1="81.1" y1="337.7" x2="103.5" y2="337.7" stroke="#ff00ff" stroke-width="1.5" />
<text x="107.3" y="341.1" font-size="10" text-anchor="start" font-weight="normal" fill="#111" color="#111" >Pt 7</text>
<clipPath id="cd"><rect x="431.5" y="270.0" width="242" height="195.5"/></clipPath>
<line x1="572.2" y1="272.3" x2="572.2" y2="465" stroke="#333" stroke-width="1.2" stroke-dasharray="5 4.9"/>
<line x1="642.55" y1="272.3" x2="642.55" y2="465" stroke="#333" stroke-width="1.2" stroke-dasharray="5 4.9"/>
<g clip-path="url(#cd)">
<path d="M431.5,383 C433.05,384.62 436.27,388.73 440.8,392.7 C445.33,396.67 453.6,403.4 458.7,406.8 C463.8,410.2 467.37,411.7 471.4,413.1 C475.43,414.5 479.07,415.07 482.9,415.2 C486.73,415.33 490.35,414.88 494.4,413.9 C498.45,412.92 502.52,411.77 507.2,409.3 C511.88,406.83 516.97,402.28 522.5,399.1 C528.03,395.92 534.65,392.63 540.4,390.2 C546.15,387.77 551.7,386.3 557,384.5 C562.3,382.7 566.55,381.43 572.2,379.4 C577.85,377.37 585.23,374.98 590.9,372.3 C596.57,369.62 601.1,366.72 606.2,363.3 C611.3,359.88 616.82,354.65 621.5,351.8 C626.18,348.95 630.68,347.47 634.3,346.2 C637.92,344.93 639.37,344.88 643.2,344.2 C647.03,343.52 652.83,343.17 657.3,342.1 C661.77,341.03 667.88,338.52 670,337.8" fill="none" stroke="#000000" stroke-width="1.5" stroke-linejoin="round" stroke-linecap="round" />
<path d="M431.5,404.2 C433.47,405.68 438.77,409.48 443.3,413.1 C447.83,416.72 453.58,422.48 458.7,425.9 C463.82,429.32 468.47,431.47 474,433.6 C479.53,435.73 485.95,437.43 491.9,438.7 C497.85,439.97 502.47,440.87 509.7,441.2 C516.93,441.53 528.92,441.2 535.3,440.7 C541.68,440.2 544.38,439.15 548,438.2 C551.62,437.25 554.53,436.28 557,435 C559.47,433.72 560.27,432.87 562.8,430.5 C565.33,428.13 569.22,424.75 572.2,420.8 C575.18,416.85 578.02,413.18 580.7,406.8 C583.38,400.42 585.75,390.8 588.3,382.5 C590.85,374.2 593.45,364.88 596,357 C598.55,349.12 601.05,340.95 603.6,335.2 C606.15,329.45 608.73,325.38 611.3,322.5 C613.87,319.62 616.45,318.67 619,317.9 C621.55,317.13 622.77,317.13 626.6,317.9 C630.43,318.67 636.88,321.18 642,322.5 C647.12,323.82 652.63,326.02 657.3,325.8 C661.97,325.58 667.88,321.97 670,321.2" fill="none" stroke="#ff0000" stroke-width="1.5" stroke-linejoin="round" stroke-linecap="round" />
<path d="M431.5,389.6 C432.62,390.12 435.8,390.48 438.2,392.7 C440.6,394.92 443.35,400.13 445.9,402.9 C448.45,405.67 450.52,406.32 453.5,409.3 C456.48,412.28 459.53,416.97 463.8,420.8 C468.07,424.63 474,428.9 479.1,432.3 C484.2,435.7 489.3,438.85 494.4,441.2 C499.5,443.55 503.73,444.68 509.7,446.4 C515.67,448.12 522.32,450.35 530.2,451.5 C538.08,452.65 550,453.12 557,453.3 C564,453.48 567.83,453.18 572.2,452.6 C576.57,452.02 579.67,451.05 583.2,449.8 C586.73,448.55 590,447.8 593.4,445.1 C596.8,442.4 600.62,438.07 603.6,433.6 C606.58,429.13 608.95,425.12 611.3,418.3 C613.65,411.48 615.57,401.22 617.7,392.7 C619.83,384.18 621.77,374.87 624.1,367.2 C626.43,359.53 628.72,352.58 631.7,346.7 C634.68,340.82 638.58,335.08 642,331.9 C645.42,328.72 649.23,328.75 652.2,327.6 C655.17,326.45 656.83,326.5 659.8,325 C662.77,323.5 668.3,319.67 670,318.6" fill="none" stroke="#22ee22" stroke-width="1.5" stroke-linejoin="round" stroke-linecap="round" />
<path d="M431.5,354.9 C433.9,355.03 441.98,355.77 445.9,355.7 C449.82,355.63 452.23,354.93 455,354.5 C457.77,354.07 459.98,353.12 462.5,353.1 C465.02,353.08 465.2,354.4 470.1,354.4 C475,354.4 484.02,353.53 491.9,353.1 C499.78,352.67 510.17,351.58 517.4,351.8 C524.63,352.02 529.87,353.53 535.3,354.4 C540.73,355.27 545,355.72 550,357 C555,358.28 560.18,359.98 565.3,362.1 C570.42,364.22 576.02,366.52 580.7,369.7 C585.38,372.88 588.73,377.15 593.4,381.2 C598.07,385.25 603.17,389.95 608.7,394 C614.23,398.05 621.05,402.4 626.6,405.5 C632.15,408.6 637.95,411.12 642,412.6 C646.05,414.08 647.93,414.22 650.9,414.4 C653.87,414.58 656.62,414.33 659.8,413.7 C662.98,413.07 668.3,411.12 670,410.6" fill="none" stroke="#0000ff" stroke-width="1.5" stroke-linejoin="round" stroke-linecap="round" />
<path d="M431.5,425.2 C433.47,425.62 438.77,427.07 443.3,427.7 C447.83,428.33 453.58,428.87 458.7,429 C463.82,429.13 468.47,429.1 474,428.5 C479.53,427.9 485.95,426.68 491.9,425.4 C497.85,424.12 503.32,422.85 509.7,420.8 C516.08,418.75 524.23,415.87 530.2,413.1 C536.17,410.33 541.03,406.8 545.5,404.2 C549.97,401.6 552.55,400.12 557,397.5 C561.45,394.88 566.55,392.07 572.2,388.5 C577.85,384.93 585.67,378.68 590.9,376.1 C596.13,373.52 599.13,373.52 603.6,373 C608.07,372.48 614.28,373.97 617.7,373 C621.12,372.03 621.33,368.38 624.1,367.2 C626.87,366.02 630.9,366.75 634.3,365.9 C637.7,365.05 640.67,364.23 644.5,362.1 C648.33,359.97 653.05,356.93 657.3,353.1 C661.55,349.27 667.88,341.43 670,339.1" fill="none" stroke="#ff00ff" stroke-width="1.5" stroke-linejoin="round" stroke-linecap="round" />
</g>
<rect x="431.5" y="270" width="242" height="195.5" fill="none" stroke="#2a2a2a" stroke-width="1"/>
<line x1="431.5" y1="465.5" x2="431.5" y2="462" stroke="#2a2a2a" stroke-width="1" />
<line x1="431.5" y1="270" x2="431.5" y2="273.5" stroke="#2a2a2a" stroke-width="1" />
<line x1="501.85" y1="465.5" x2="501.85" y2="462" stroke="#2a2a2a" stroke-width="1" />
<line x1="501.85" y1="270" x2="501.85" y2="273.5" stroke="#2a2a2a" stroke-width="1" />
<line x1="572.2" y1="465.5" x2="572.2" y2="462" stroke="#2a2a2a" stroke-width="1" />
<line x1="572.2" y1="270" x2="572.2" y2="273.5" stroke="#2a2a2a" stroke-width="1" />
<line x1="642.55" y1="465.5" x2="642.55" y2="462" stroke="#2a2a2a" stroke-width="1" />
<line x1="642.55" y1="270" x2="642.55" y2="273.5" stroke="#2a2a2a" stroke-width="1" />
<line x1="452.68" y1="465.5" x2="452.68" y2="463.5" stroke="#2a2a2a" stroke-width="1" />
<line x1="452.68" y1="270" x2="452.68" y2="272" stroke="#2a2a2a" stroke-width="1" />
<line x1="465.07" y1="465.5" x2="465.07" y2="463.5" stroke="#2a2a2a" stroke-width="1" />
<line x1="465.07" y1="270" x2="465.07" y2="272" stroke="#2a2a2a" stroke-width="1" />
<line x1="473.85" y1="465.5" x2="473.85" y2="463.5" stroke="#2a2a2a" stroke-width="1" />
<line x1="473.85" y1="270" x2="473.85" y2="272" stroke="#2a2a2a" stroke-width="1" />
<line x1="480.67" y1="465.5" x2="480.67" y2="463.5" stroke="#2a2a2a" stroke-width="1" />
<line x1="480.67" y1="270" x2="480.67" y2="272" stroke="#2a2a2a" stroke-width="1" />
<line x1="486.24" y1="465.5" x2="486.24" y2="463.5" stroke="#2a2a2a" stroke-width="1" />
<line x1="486.24" y1="270" x2="486.24" y2="272" stroke="#2a2a2a" stroke-width="1" />
<line x1="490.95" y1="465.5" x2="490.95" y2="463.5" stroke="#2a2a2a" stroke-width="1" />
<line x1="490.95" y1="270" x2="490.95" y2="272" stroke="#2a2a2a" stroke-width="1" />
<line x1="495.03" y1="465.5" x2="495.03" y2="463.5" stroke="#2a2a2a" stroke-width="1" />
<line x1="495.03" y1="270" x2="495.03" y2="272" stroke="#2a2a2a" stroke-width="1" />
<line x1="498.63" y1="465.5" x2="498.63" y2="463.5" stroke="#2a2a2a" stroke-width="1" />
<line x1="498.63" y1="270" x2="498.63" y2="272" stroke="#2a2a2a" stroke-width="1" />
<line x1="523.03" y1="465.5" x2="523.03" y2="463.5" stroke="#2a2a2a" stroke-width="1" />
<line x1="523.03" y1="270" x2="523.03" y2="272" stroke="#2a2a2a" stroke-width="1" />
<line x1="535.42" y1="465.5" x2="535.42" y2="463.5" stroke="#2a2a2a" stroke-width="1" />
<line x1="535.42" y1="270" x2="535.42" y2="272" stroke="#2a2a2a" stroke-width="1" />
<line x1="544.2" y1="465.5" x2="544.2" y2="463.5" stroke="#2a2a2a" stroke-width="1" />
<line x1="544.2" y1="270" x2="544.2" y2="272" stroke="#2a2a2a" stroke-width="1" />
<line x1="551.02" y1="465.5" x2="551.02" y2="463.5" stroke="#2a2a2a" stroke-width="1" />
<line x1="551.02" y1="270" x2="551.02" y2="272" stroke="#2a2a2a" stroke-width="1" />
<line x1="556.59" y1="465.5" x2="556.59" y2="463.5" stroke="#2a2a2a" stroke-width="1" />
<line x1="556.59" y1="270" x2="556.59" y2="272" stroke="#2a2a2a" stroke-width="1" />
<line x1="561.3" y1="465.5" x2="561.3" y2="463.5" stroke="#2a2a2a" stroke-width="1" />
<line x1="561.3" y1="270" x2="561.3" y2="272" stroke="#2a2a2a" stroke-width="1" />
<line x1="565.38" y1="465.5" x2="565.38" y2="463.5" stroke="#2a2a2a" stroke-width="1" />
<line x1="565.38" y1="270" x2="565.38" y2="272" stroke="#2a2a2a" stroke-width="1" />
<line x1="568.98" y1="465.5" x2="568.98" y2="463.5" stroke="#2a2a2a" stroke-width="1" />
<line x1="568.98" y1="270" x2="568.98" y2="272" stroke="#2a2a2a" stroke-width="1" />
<line x1="593.38" y1="465.5" x2="593.38" y2="463.5" stroke="#2a2a2a" stroke-width="1" />
<line x1="593.38" y1="270" x2="593.38" y2="272" stroke="#2a2a2a" stroke-width="1" />
<line x1="605.77" y1="465.5" x2="605.77" y2="463.5" stroke="#2a2a2a" stroke-width="1" />
<line x1="605.77" y1="270" x2="605.77" y2="272" stroke="#2a2a2a" stroke-width="1" />
<line x1="614.55" y1="465.5" x2="614.55" y2="463.5" stroke="#2a2a2a" stroke-width="1" />
<line x1="614.55" y1="270" x2="614.55" y2="272" stroke="#2a2a2a" stroke-width="1" />
<line x1="621.37" y1="465.5" x2="621.37" y2="463.5" stroke="#2a2a2a" stroke-width="1" />
<line x1="621.37" y1="270" x2="621.37" y2="272" stroke="#2a2a2a" stroke-width="1" />
<line x1="626.94" y1="465.5" x2="626.94" y2="463.5" stroke="#2a2a2a" stroke-width="1" />
<line x1="626.94" y1="270" x2="626.94" y2="272" stroke="#2a2a2a" stroke-width="1" />
<line x1="631.65" y1="465.5" x2="631.65" y2="463.5" stroke="#2a2a2a" stroke-width="1" />
<line x1="631.65" y1="270" x2="631.65" y2="272" stroke="#2a2a2a" stroke-width="1" />
<line x1="635.73" y1="465.5" x2="635.73" y2="463.5" stroke="#2a2a2a" stroke-width="1" />
<line x1="635.73" y1="270" x2="635.73" y2="272" stroke="#2a2a2a" stroke-width="1" />
<line x1="639.33" y1="465.5" x2="639.33" y2="463.5" stroke="#2a2a2a" stroke-width="1" />
<line x1="639.33" y1="270" x2="639.33" y2="272" stroke="#2a2a2a" stroke-width="1" />
<line x1="663.73" y1="465.5" x2="663.73" y2="463.5" stroke="#2a2a2a" stroke-width="1" />
<line x1="663.73" y1="270" x2="663.73" y2="272" stroke="#2a2a2a" stroke-width="1" />
<line x1="431.5" y1="283.9" x2="435" y2="283.9" stroke="#2a2a2a" stroke-width="1" />
<line x1="673.5" y1="283.9" x2="670" y2="283.9" stroke="#2a2a2a" stroke-width="1" />
<line x1="431.5" y1="311.7" x2="435" y2="311.7" stroke="#2a2a2a" stroke-width="1" />
<line x1="673.5" y1="311.7" x2="670" y2="311.7" stroke="#2a2a2a" stroke-width="1" />
<line x1="431.5" y1="339.5" x2="435" y2="339.5" stroke="#2a2a2a" stroke-width="1" />
<line x1="673.5" y1="339.5" x2="670" y2="339.5" stroke="#2a2a2a" stroke-width="1" />
<line x1="431.5" y1="367.3" x2="435" y2="367.3" stroke="#2a2a2a" stroke-width="1" />
<line x1="673.5" y1="367.3" x2="670" y2="367.3" stroke="#2a2a2a" stroke-width="1" />
<line x1="431.5" y1="395.1" x2="435" y2="395.1" stroke="#2a2a2a" stroke-width="1" />
<line x1="673.5" y1="395.1" x2="670" y2="395.1" stroke="#2a2a2a" stroke-width="1" />
<line x1="431.5" y1="422.9" x2="435" y2="422.9" stroke="#2a2a2a" stroke-width="1" />
<line x1="673.5" y1="422.9" x2="670" y2="422.9" stroke="#2a2a2a" stroke-width="1" />
<line x1="431.5" y1="450.7" x2="435" y2="450.7" stroke="#2a2a2a" stroke-width="1" />
<line x1="673.5" y1="450.7" x2="670" y2="450.7" stroke="#2a2a2a" stroke-width="1" />
<line x1="431.5" y1="297.8" x2="433.5" y2="297.8" stroke="#2a2a2a" stroke-width="1" />
<line x1="673.5" y1="297.8" x2="671.5" y2="297.8" stroke="#2a2a2a" stroke-width="1" />
<line x1="431.5" y1="325.6" x2="433.5" y2="325.6" stroke="#2a2a2a" stroke-width="1" />
<line x1="673.5" y1="325.6" x2="671.5" y2="325.6" stroke="#2a2a2a" stroke-width="1" />
<line x1="431.5" y1="353.4" x2="433.5" y2="353.4" stroke="#2a2a2a" stroke-width="1" />
<line x1="673.5" y1="353.4" x2="671.5" y2="353.4" stroke="#2a2a2a" stroke-width="1" />
<line x1="431.5" y1="381.2" x2="433.5" y2="381.2" stroke="#2a2a2a" stroke-width="1" />
<line x1="673.5" y1="381.2" x2="671.5" y2="381.2" stroke="#2a2a2a" stroke-width="1" />
<line x1="431.5" y1="409" x2="433.5" y2="409" stroke="#2a2a2a" stroke-width="1" />
<line x1="673.5" y1="409" x2="671.5" y2="409" stroke="#2a2a2a" stroke-width="1" />
<line x1="431.5" y1="436.8" x2="433.5" y2="436.8" stroke="#2a2a2a" stroke-width="1" />
<line x1="673.5" y1="436.8" x2="671.5" y2="436.8" stroke="#2a2a2a" stroke-width="1" />
<line x1="431.5" y1="464.6" x2="433.5" y2="464.6" stroke="#2a2a2a" stroke-width="1" />
<line x1="673.5" y1="464.6" x2="671.5" y2="464.6" stroke="#2a2a2a" stroke-width="1" />
<text x="427.4" y="287.2" font-size="10.3" text-anchor="end" font-weight="normal" fill="#111" color="#111" >-40</text>
<text x="427.4" y="315" font-size="10.3" text-anchor="end" font-weight="normal" fill="#111" color="#111" >-20</text>
<text x="427.4" y="342.8" font-size="10.3" text-anchor="end" font-weight="normal" fill="#111" color="#111" >0</text>
<text x="427.4" y="370.6" font-size="10.3" text-anchor="end" font-weight="normal" fill="#111" color="#111" >20</text>
<text x="427.4" y="398.4" font-size="10.3" text-anchor="end" font-weight="normal" fill="#111" color="#111" >40</text>
<text x="427.4" y="426.2" font-size="10.3" text-anchor="end" font-weight="normal" fill="#111" color="#111" >60</text>
<text x="427.4" y="454" font-size="10.3" text-anchor="end" font-weight="normal" fill="#111" color="#111" >80</text>
<text x="431.5" y="477" font-size="10.3" text-anchor="middle" font-weight="normal" fill="#111" color="#111" >10</text>
<text x="501.85" y="477" font-size="10.3" text-anchor="middle" font-weight="normal" fill="#111" color="#111" >100</text>
<text x="572.2" y="477" font-size="10.3" text-anchor="middle" font-weight="normal" fill="#111" color="#111" >1000</text>
<text x="642.55" y="477" font-size="10.3" text-anchor="middle" font-weight="normal" fill="#111" color="#111" >10000</text>
<text x="556.4" y="490.7" font-size="13" text-anchor="middle" font-weight="normal" fill="#111" color="#111" >Frequency / Hz</text>
<text transform="translate(406.5,367.5) rotate(-90)" font-size="13" text-anchor="middle" fill="#111" color="#111">-Phase Z / degrees</text>
<text x="426.6" y="267.8" font-size="9.8" text-anchor="start" font-weight="normal" fill="#111" color="#111" >10 Hz</text>
<text x="573.7" y="267.8" font-size="9.8" text-anchor="middle" font-weight="normal" fill="#111" color="#111" >1 kHz</text>
<text x="644.55" y="267.8" font-size="9.8" text-anchor="middle" font-weight="normal" fill="#111" color="#111" >10 kHz</text>
<text x="379.4" y="281.8" font-size="21" text-anchor="start" font-weight="bold" fill="#000" color="#000" >(d)</text>
<line x1="481.1" y1="283.6" x2="504.1" y2="283.6" stroke="#000000" stroke-width="1.5" />
<text x="507.2" y="287" font-size="10" text-anchor="start" font-weight="normal" fill="#111" color="#111" >Pt 1</text>
<line x1="481.1" y1="296.4" x2="504.1" y2="296.4" stroke="#ff0000" stroke-width="1.5" />
<text x="507.2" y="299.8" font-size="10" text-anchor="start" font-weight="normal" fill="#111" color="#111" >Pt 2</text>
<line x1="481.1" y1="309.2" x2="504.1" y2="309.2" stroke="#22ee22" stroke-width="1.5" />
<text x="507.2" y="312.6" font-size="10" text-anchor="start" font-weight="normal" fill="#111" color="#111" >Pt 3</text>
<line x1="481.1" y1="321.6" x2="504.1" y2="321.6" stroke="#0000ff" stroke-width="1.5" />
<text x="507.2" y="325" font-size="10" text-anchor="start" font-weight="normal" fill="#111" color="#111" >Pt 6</text>
<line x1="481.1" y1="334" x2="504.1" y2="334" stroke="#ff00ff" stroke-width="1.5" />
<text x="507.2" y="337.4" font-size="10" text-anchor="start" font-weight="normal" fill="#111" color="#111" >Pt 7</text>
<clipPath id="ce"><rect x="57.5" y="534.5" width="248" height="201"/></clipPath>
<g clip-path="url(#ce)">
<path d="M84.5,720 C84.83,717.67 85.78,709.83 86.5,706 C87.22,702.17 87.88,700.25 88.8,697 C89.72,693.75 90.83,690.67 92,686.5 C93.17,682.33 94.5,676.83 95.8,672 C97.1,667.17 98.27,661.58 99.8,657.5 C101.33,653.42 103.08,651.05 105,647.5 C106.92,643.95 108.72,640.05 111.3,636.2 C113.88,632.35 117,628.33 120.5,624.4 C124,620.47 128.8,615.45 132.3,612.6 C135.8,609.75 138.22,609.05 141.5,607.3 C144.78,605.55 147.83,603.67 152,602.1 C156.17,600.53 162.3,598.72 166.5,597.9 C170.7,597.08 172.62,597.6 177.2,597.2 C181.78,596.8 189.68,596.18 194,595.5 C198.32,594.82 201.58,593.5 203.1,593.1" fill="none" stroke="#66ee66" stroke-width="0.7" stroke-linejoin="round" stroke-linecap="round" />
<path d="M203.1,593.1 L214.3,606.2 L231.1,625.8 L245.1,630.1 L256.9,655.7 L259.2,646.4 L274.5,659.4 L274.5,678.1" fill="none" stroke="#66ee66" stroke-width="0.7" stroke-linejoin="round" />
<path d="M84.5,720 C85.08,717.83 86.58,711.5 88,707 C89.42,702.5 91.53,697.33 93,693 C94.47,688.67 95.6,684.48 96.8,681 C98,677.52 98.85,675.32 100.2,672.1 C101.55,668.88 102.97,665.37 104.9,661.7 C106.83,658.03 110.65,652.03 111.8,650.1" fill="none" stroke="#ff55ff" stroke-width="0.8" stroke-linejoin="round" stroke-linecap="round" />
<path d="M84.5,720 L88,700 L95,686 L104,676 L111.8,670.7 L126.7,670.7 L136,667.9 L151,677.2 L172.5,695.9" fill="none" stroke="#ff5555" stroke-width="0.7" stroke-linejoin="round" stroke-dasharray="2 1"/>
<path d="M85,718 C85.5,717 86.67,713.5 88,712 C89.33,710.5 91,709.33 93,709 C95,708.67 97.03,709.33 100,710 C102.97,710.67 107.47,712.83 110.8,713 C114.13,713.17 117.47,712 120,711 C122.53,710 125,707.67 126,707" fill="none" stroke="#3333ff" stroke-width="0.6" stroke-linejoin="round" stroke-linecap="round" />
<path d="M85,716 C85.83,714.58 87.72,709.28 90,707.5 C92.28,705.72 95.23,705.13 98.7,705.3 C102.17,705.47 107.37,708.58 110.8,708.5 C114.23,708.42 116.65,706.28 119.3,704.8 C121.95,703.32 125.47,700.47 126.7,699.6" fill="none" stroke="#7777ff" stroke-width="0.5" stroke-linejoin="round" stroke-linecap="round" />
<path d="M92,703 C93,702.33 95.95,699.9 98,699 C100.05,698.1 102.13,697.6 104.3,697.6 C106.47,697.6 108.72,698.02 111,699 C113.28,699.98 116,702.17 118,703.5 C120,704.83 121.7,705.78 123,707 C124.3,708.22 125.33,710.17 125.8,710.8" fill="none" stroke="#000" stroke-width="3.0" stroke-linejoin="round" stroke-linecap="round" />
<path d="M86,712 C86.87,710.93 89.08,706.88 91.2,705.6 C93.32,704.32 96.57,704.32 98.7,704.3 C100.83,704.28 101.98,704.88 104,705.5 C106.02,706.12 108.97,707.75 110.8,708 C112.63,708.25 113.58,707.62 115,707 C116.42,706.38 117.35,705.53 119.3,704.3 C121.25,703.07 125.47,700.38 126.7,699.6" fill="none" stroke="#0000ff" stroke-width="3.0" stroke-linejoin="round" stroke-linecap="round" />
<path d="M84.5,721 C84.83,719.5 85.75,715.33 86.5,712 C87.25,708.67 88.08,704.17 89,701 C89.92,697.83 91,695.42 92,693 C93,690.58 94.17,688.5 95,686.5 C95.83,684.5 96.67,681.92 97,681" fill="none" stroke="#ff00ff" stroke-width="3.0" stroke-linejoin="round" stroke-linecap="round" />
<path d="M84.3,721 C84.42,719.5 84.68,714.83 85,712 C85.32,709.17 85.78,706.33 86.2,704 C86.62,701.67 87.28,699 87.5,698" fill="none" stroke="#00ee00" stroke-width="1.6" stroke-linejoin="round" stroke-linecap="round" />
</g>
<rect x="169.1" y="586.7" width="4.2" height="4.2" fill="#00ff00"/>
<rect x="148" y="591.5" width="4.2" height="4.2" fill="#00ff00"/>
<rect x="192.5" y="590.6" width="4.2" height="4.2" fill="#00ff00"/>
<rect x="128" y="603.7" width="4.2" height="4.2" fill="#00ff00"/>
<rect x="113.4" y="619.4" width="4.2" height="4.2" fill="#00ff00"/>
<rect x="102.2" y="636.2" width="4.2" height="4.2" fill="#00ff00"/>
<rect x="95.1" y="652.1" width="4.2" height="4.2" fill="#00ff00"/>
<rect x="90.6" y="665" width="4.2" height="4.2" fill="#00ff00"/>
<rect x="87.6" y="676.4" width="4.2" height="4.2" fill="#00ff00"/>
<rect x="85.8" y="685" width="4.2" height="4.2" fill="#00ff00"/>
<rect x="84.6" y="692.5" width="4.2" height="4.2" fill="#00ff00"/>
<rect x="83.5" y="697.5" width="4.2" height="4.2" fill="#00ff00"/>
<rect x="83.1" y="701.9" width="4.2" height="4.2" fill="#00ff00"/>
<rect x="82.8" y="705.9" width="4.2" height="4.2" fill="#00ff00"/>
<rect x="82.6" y="709.9" width="4.2" height="4.2" fill="#00ff00"/>
<rect x="211.3" y="600.9" width="4.2" height="4.2" fill="#00ff00"/>
<rect x="238.9" y="632.7" width="4.2" height="4.2" fill="#00ff00"/>
<rect x="246.8" y="648.6" width="4.2" height="4.2" fill="#00ff00"/>
<rect x="254.8" y="674.2" width="4.2" height="4.2" fill="#00ff00"/>
<rect x="257.1" y="683.5" width="4.2" height="4.2" fill="#00ff00"/>
<rect x="258.2" y="691" width="4.2" height="4.2" fill="#00ff00"/>
<rect x="259.3" y="697.2" width="4.2" height="4.2" fill="#00ff00"/>
<rect x="162.4" y="698.1" width="4.2" height="4.2" fill="#ff0000"/>
<rect x="154.5" y="679.8" width="4.2" height="4.2" fill="#ff0000"/>
<rect x="148.9" y="673.2" width="4.2" height="4.2" fill="#ff0000"/>
<rect x="142" y="667.6" width="4.2" height="4.2" fill="#ff0000"/>
<rect x="134" y="663.9" width="4.2" height="4.2" fill="#ff0000"/>
<rect x="125.2" y="663.3" width="4.2" height="4.2" fill="#ff0000"/>
<rect x="116.8" y="664.8" width="4.2" height="4.2" fill="#ff0000"/>
<rect x="109.7" y="668.6" width="4.2" height="4.2" fill="#ff0000"/>
<rect x="102.8" y="673.2" width="4.2" height="4.2" fill="#ff0000"/>
<rect x="97.5" y="678.5" width="4.2" height="4.2" fill="#ff0000"/>
<rect x="93.2" y="684.1" width="4.2" height="4.2" fill="#ff0000"/>
<rect x="90" y="689.7" width="4.2" height="4.2" fill="#ff0000"/>
<rect x="87.2" y="694.7" width="4.2" height="4.2" fill="#ff0000"/>
<rect x="85.4" y="699.4" width="4.2" height="4.2" fill="#ff0000"/>
<rect x="84.2" y="703.9" width="4.2" height="4.2" fill="#ff0000"/>
<rect x="83.4" y="707.9" width="4.2" height="4.2" fill="#ff0000"/>
<rect x="109.7" y="648" width="4.2" height="4.2" fill="#ff00ff"/>
<rect x="102.8" y="659.6" width="4.2" height="4.2" fill="#ff00ff"/>
<rect x="98.1" y="670" width="4.2" height="4.2" fill="#ff00ff"/>
<rect x="94.7" y="678.9" width="4.2" height="4.2" fill="#ff00ff"/>
<rect x="92.9" y="685.4" width="4.2" height="4.2" fill="#ff00ff"/>
<rect x="91" y="691" width="4.2" height="4.2" fill="#ff00ff"/>
<rect x="89.4" y="695.9" width="4.2" height="4.2" fill="#ff00ff"/>
<rect x="87.9" y="700.4" width="4.2" height="4.2" fill="#ff00ff"/>
<rect x="86.5" y="704.4" width="4.2" height="4.2" fill="#ff00ff"/>
<rect x="85.2" y="708.4" width="4.2" height="4.2" fill="#ff00ff"/>
<rect x="84.1" y="712.4" width="4.2" height="4.2" fill="#ff00ff"/>
<rect x="83.2" y="715.9" width="4.2" height="4.2" fill="#ff00ff"/>
<rect x="57.5" y="534.5" width="248" height="201" fill="none" stroke="#2a2a2a" stroke-width="1"/>
<line x1="57.2" y1="534" x2="57.2" y2="735.5" stroke="#fff" stroke-width="2.2" />
<line x1="57.2" y1="534" x2="57.2" y2="735.5" stroke="#a0a0a0" stroke-width="1.8" />
<line x1="84.8" y1="735.5" x2="84.8" y2="731.5" stroke="#2a2a2a" stroke-width="1" />
<line x1="84.8" y1="534.5" x2="84.8" y2="538.5" stroke="#2a2a2a" stroke-width="1" />
<line x1="145.2" y1="735.5" x2="145.2" y2="731.5" stroke="#2a2a2a" stroke-width="1" />
<line x1="145.2" y1="534.5" x2="145.2" y2="538.5" stroke="#2a2a2a" stroke-width="1" />
<line x1="205.59" y1="735.5" x2="205.59" y2="731.5" stroke="#2a2a2a" stroke-width="1" />
<line x1="205.59" y1="534.5" x2="205.59" y2="538.5" stroke="#2a2a2a" stroke-width="1" />
<line x1="265.99" y1="735.5" x2="265.99" y2="731.5" stroke="#2a2a2a" stroke-width="1" />
<line x1="265.99" y1="534.5" x2="265.99" y2="538.5" stroke="#2a2a2a" stroke-width="1" />
<line x1="115" y1="735.5" x2="115" y2="733" stroke="#2a2a2a" stroke-width="1" />
<line x1="115" y1="534.5" x2="115" y2="537" stroke="#2a2a2a" stroke-width="1" />
<line x1="175.39" y1="735.5" x2="175.39" y2="733" stroke="#2a2a2a" stroke-width="1" />
<line x1="175.39" y1="534.5" x2="175.39" y2="537" stroke="#2a2a2a" stroke-width="1" />
<line x1="235.79" y1="735.5" x2="235.79" y2="733" stroke="#2a2a2a" stroke-width="1" />
<line x1="235.79" y1="534.5" x2="235.79" y2="537" stroke="#2a2a2a" stroke-width="1" />
<line x1="296.19" y1="735.5" x2="296.19" y2="733" stroke="#2a2a2a" stroke-width="1" />
<line x1="296.19" y1="534.5" x2="296.19" y2="537" stroke="#2a2a2a" stroke-width="1" />
<line x1="57.5" y1="720.1" x2="61.5" y2="720.1" stroke="#2a2a2a" stroke-width="1" />
<line x1="305.5" y1="720.1" x2="301.5" y2="720.1" stroke="#2a2a2a" stroke-width="1" />
<line x1="57.5" y1="679.95" x2="61.5" y2="679.95" stroke="#2a2a2a" stroke-width="1" />
<line x1="305.5" y1="679.95" x2="301.5" y2="679.95" stroke="#2a2a2a" stroke-width="1" />
<line x1="57.5" y1="639.8" x2="61.5" y2="639.8" stroke="#2a2a2a" stroke-width="1" />
<line x1="305.5" y1="639.8" x2="301.5" y2="639.8" stroke="#2a2a2a" stroke-width="1" />
<line x1="57.5" y1="599.65" x2="61.5" y2="599.65" stroke="#2a2a2a" stroke-width="1" />
<line x1="305.5" y1="599.65" x2="301.5" y2="599.65" stroke="#2a2a2a" stroke-width="1" />
<line x1="57.5" y1="559.5" x2="61.5" y2="559.5" stroke="#2a2a2a" stroke-width="1" />
<line x1="305.5" y1="559.5" x2="301.5" y2="559.5" stroke="#2a2a2a" stroke-width="1" />
<line x1="57.5" y1="700.03" x2="60" y2="700.03" stroke="#2a2a2a" stroke-width="1" />
<line x1="305.5" y1="700.03" x2="303" y2="700.03" stroke="#2a2a2a" stroke-width="1" />
<line x1="57.5" y1="659.88" x2="60" y2="659.88" stroke="#2a2a2a" stroke-width="1" />
<line x1="305.5" y1="659.88" x2="303" y2="659.88" stroke="#2a2a2a" stroke-width="1" />
<line x1="57.5" y1="619.73" x2="60" y2="619.73" stroke="#2a2a2a" stroke-width="1" />
<line x1="305.5" y1="619.73" x2="303" y2="619.73" stroke="#2a2a2a" stroke-width="1" />
<line x1="57.5" y1="579.58" x2="60" y2="579.58" stroke="#2a2a2a" stroke-width="1" />
<line x1="305.5" y1="579.58" x2="303" y2="579.58" stroke="#2a2a2a" stroke-width="1" />
<line x1="57.5" y1="539.43" x2="60" y2="539.43" stroke="#2a2a2a" stroke-width="1" />
<line x1="305.5" y1="539.43" x2="303" y2="539.43" stroke="#2a2a2a" stroke-width="1" />
<text x="52.5" y="723.4" font-size="11.6" text-anchor="end" font-weight="normal" fill="#111" color="#111" >0.0</text>
<text x="52.5" y="683.25" font-size="11.6" text-anchor="end" font-weight="normal" fill="#111" color="#111" >5.4</text>
<text x="52.5" y="643.1" font-size="11.6" text-anchor="end" font-weight="normal" fill="#111" color="#111" >10.8</text>
<text x="52.5" y="602.95" font-size="11.6" text-anchor="end" font-weight="normal" fill="#111" color="#111" >16.2</text>
<text x="52.5" y="562.8" font-size="11.6" text-anchor="end" font-weight="normal" fill="#111" color="#111" >21.6</text>
<text x="84.8" y="748.6" font-size="11.4" text-anchor="middle" font-weight="normal" fill="#111" color="#111" >0.0</text>
<text x="145" y="748.6" font-size="11.6" text-anchor="middle" font-weight="normal" fill="#111" color="#111" >1.2×10<tspan font-size="7.5" dy="-5">1</tspan></text>
<text x="205.39" y="748.6" font-size="11.6" text-anchor="middle" font-weight="normal" fill="#111" color="#111" >2.4×10<tspan font-size="7.5" dy="-5">1</tspan></text>
<text x="265.79" y="748.6" font-size="11.6" text-anchor="middle" font-weight="normal" fill="#111" color="#111" >3.6×10<tspan font-size="7.5" dy="-5">1</tspan></text>
<text x="180.7" y="766.8" font-size="15.2" text-anchor="middle" font-weight="normal" fill="#111" color="#111" >Re(Z)/Ohm (x 10<tspan font-size="10" dy="-6">6</tspan><tspan dy="6">)</tspan></text>
<text transform="translate(24.6,634.5) rotate(-90)" font-size="15.3" text-anchor="middle" fill="#111" color="#111">-Imaginary (Z)/Ohm (x 10<tspan font-size="10" dy="-6">6</tspan><tspan dy="6">)</tspan></text>
<text x="1.8" y="533.7" font-size="21" text-anchor="start" font-weight="bold" fill="#000" color="#000" >(e)</text>
<path d="M149.7,568.4 L152,566.8 L155.5,566.3 L160.2,566.3" fill="none" stroke="#333" stroke-width="0.9" stroke-linejoin="round" />
<rect x="160.2" y="563.7" width="15.2" height="5.2" fill="#fff" stroke="#333" stroke-width="0.9"/>
<line x1="175.4" y1="566.3" x2="184.2" y2="566.3" stroke="#333" stroke-width="0.9" />
<line x1="184.2" y1="555.6" x2="184.2" y2="577.5" stroke="#333" stroke-width="0.9" />
<line x1="228.4" y1="555.6" x2="228.4" y2="577.5" stroke="#333" stroke-width="0.9" />
<line x1="184.2" y1="555.6" x2="204.5" y2="555.6" stroke="#333" stroke-width="0.9" />
<line x1="208" y1="555.6" x2="228.4" y2="555.6" stroke="#333" stroke-width="0.9" />
<line x1="204.5" y1="552.5" x2="204.5" y2="559.5" stroke="#333" stroke-width="1.1" />
<line x1="208" y1="552.5" x2="208" y2="559.5" stroke="#333" stroke-width="1.1" />
<line x1="184.2" y1="577.5" x2="198.7" y2="577.5" stroke="#333" stroke-width="0.9" />
<line x1="214.4" y1="577.5" x2="228.4" y2="577.5" stroke="#333" stroke-width="0.9" />
<rect x="198.7" y="574.6" width="15.7" height="5.4" fill="#fff" stroke="#333" stroke-width="0.9"/>
<line x1="228.4" y1="566.3" x2="237.3" y2="566.3" stroke="#333" stroke-width="0.9" />
<line x1="237.3" y1="555.6" x2="237.3" y2="577.5" stroke="#333" stroke-width="0.9" />
<line x1="281.7" y1="555.6" x2="281.7" y2="577.5" stroke="#333" stroke-width="0.9" />
<line x1="237.3" y1="555.6" x2="259" y2="555.6" stroke="#333" stroke-width="0.9" />
<line x1="262.5" y1="555.6" x2="281.7" y2="555.6" stroke="#333" stroke-width="0.9" />
<line x1="259" y1="552.5" x2="259" y2="559.5" stroke="#333" stroke-width="1.1" />
<line x1="262.5" y1="552.5" x2="262.5" y2="559.5" stroke="#333" stroke-width="1.1" />
<line x1="237.3" y1="577.5" x2="244.3" y2="577.5" stroke="#333" stroke-width="0.9" />
<rect x="244.3" y="574.6" width="15.2" height="5.4" fill="#fff" stroke="#333" stroke-width="0.9"/>
<line x1="259.5" y1="577.5" x2="265" y2="577.5" stroke="#333" stroke-width="0.9" />
<line x1="278" y1="577.5" x2="281.7" y2="577.5" stroke="#333" stroke-width="0.9" />
<path d="M281.7,566.3 L293,566.3 L296,564.5 L298,563.8" fill="none" stroke="#333" stroke-width="0.9" stroke-linejoin="round" />
<text x="168" y="561.9" font-size="9.9" text-anchor="middle" font-weight="normal" fill="#222" color="#222" >R1</text>
<text x="206.5" y="550.2" font-size="9.9" text-anchor="middle" font-weight="normal" fill="#222" color="#222" >C2</text>
<text x="206.3" y="589.9" font-size="9.9" text-anchor="middle" font-weight="normal" fill="#222" color="#222" >R2</text>
<text x="261" y="550.2" font-size="9.9" text-anchor="middle" font-weight="normal" fill="#222" color="#222" >C3</text>
<text x="252.4" y="589.9" font-size="9.9" text-anchor="middle" font-weight="normal" fill="#222" color="#222" >R3</text>
<text x="265.3" y="580.8" font-size="9.9" text-anchor="start" font-weight="normal" fill="#222" color="#222" >W<tspan font-size="6.5" dy="2">δ</tspan></text>
<line x1="311" y1="543.8" x2="334.8" y2="543.8" stroke="#000" stroke-width="1.2" />
<text x="337.6" y="547.4" font-size="10" text-anchor="start" font-weight="normal" fill="#111" color="#111" >Point 1</text>
<rect x="320.9" y="554.5" width="4.2" height="4.2" fill="#000"/>
<text x="337.6" y="560.2" font-size="10" text-anchor="start" font-weight="normal" fill="#111" color="#111" >Fitted</text>
<line x1="311" y1="569.4" x2="334.8" y2="569.4" stroke="#fff" stroke-width="0.5" />
<text x="337.6" y="573" font-size="10" text-anchor="start" font-weight="normal" fill="#111" color="#111" >Point 2</text>
<rect x="320.9" y="580.1" width="4.2" height="4.2" fill="#ff0000"/>
<text x="337.6" y="585.8" font-size="10" text-anchor="start" font-weight="normal" fill="#111" color="#111" >Fitted</text>
<line x1="311" y1="595" x2="334.8" y2="595" stroke="#88ee88" stroke-width="0.7" />
<text x="337.6" y="598.6" font-size="10" text-anchor="start" font-weight="normal" fill="#111" color="#111" >Point 3</text>
<rect x="320.9" y="605.7" width="4.2" height="4.2" fill="#00ff00"/>
<text x="337.6" y="611.4" font-size="10" text-anchor="start" font-weight="normal" fill="#111" color="#111" >Fitted</text>
<line x1="311" y1="620.6" x2="334.8" y2="620.6" stroke="#ccccff" stroke-width="0.7" />
<text x="337.6" y="624.2" font-size="10" text-anchor="start" font-weight="normal" fill="#111" color="#111" >Point 6</text>
<rect x="320.9" y="631.3" width="4.2" height="4.2" fill="#0000ff"/>
<text x="337.6" y="637" font-size="10" text-anchor="start" font-weight="normal" fill="#111" color="#111" >Fitted</text>
<line x1="311" y1="646.2" x2="334.8" y2="646.2" stroke="#ff88ff" stroke-width="1.2" />
<text x="337.6" y="649.8" font-size="10" text-anchor="start" font-weight="normal" fill="#111" color="#111" >Point 7</text>
<rect x="320.9" y="656.9" width="4.2" height="4.2" fill="#ff00ff"/>
<text x="337.6" y="662.6" font-size="10" text-anchor="start" font-weight="normal" fill="#111" color="#111" >Fitted</text>
<clipPath id="cf1"><rect x="437.5" y="522.5" width="246" height="110"/></clipPath>
<g clip-path="url(#cf1)">
<path d="M437,630 L437.49,630 L437.99,630 L438.48,630 L438.98,630 L439.47,630 L439.96,630 L440.46,630 L440.95,630 L441.45,630 L441.94,630 L442.43,630 L442.93,630 L443.42,630 L443.92,630 L444.41,630 L444.9,630 L445.4,630 L445.89,630 L446.39,630 L446.88,630 L447.37,630 L447.87,630 L448.36,630 L448.86,630 L449.35,630 L449.84,630 L450.34,630 L450.83,630 L451.33,630 L451.82,630 L452.31,630 L452.81,630 L453.3,630 L453.8,630 L454.29,630 L454.78,630 L455.28,630 L455.77,630 L456.27,630 L456.76,630 L457.25,630 L457.75,630 L458.24,630 L458.74,630 L459.23,630 L459.72,630 L460.22,630 L460.71,630 L461.21,630 L461.7,630 L462.19,630 L462.69,630 L463.18,630 L463.68,630 L464.17,630 L464.66,630 L465.16,630 L465.65,630 L466.15,630 L466.64,630 L467.13,630 L467.63,630 L468.12,630 L468.62,630 L469.11,630 L469.6,630 L470.1,630 L470.59,630 L471.09,630 L471.58,630 L472.07,630 L472.57,630 L473.06,630 L473.56,630 L474.05,630 L474.54,630 L475.04,630 L475.53,630 L476.03,630 L476.52,630 L477.01,630 L477.51,629.99 L478,629.99 L478.5,629.99 L478.99,629.98 L479.48,629.97 L479.98,629.96 L480.47,629.95 L480.97,629.93 L481.46,629.91 L481.95,629.88 L482.45,629.84 L482.94,629.79 L483.44,629.73 L483.93,629.66 L484.42,629.58 L484.92,629.48 L485.41,629.36 L485.91,629.23 L486.4,629.08 L486.89,628.91 L487.39,628.73 L487.88,628.54 L488.38,628.34 L488.87,628.13 L489.36,627.93 L489.86,627.73 L490.35,627.54 L490.85,627.36 L491.34,627.21 L491.83,627.08 L492.33,626.99 L492.82,626.93 L493.32,626.9 L493.81,626.91 L494.3,626.96 L494.8,627.05 L495.29,627.16 L495.79,627.31 L496.28,627.47 L496.77,627.66 L497.27,627.86 L497.76,628.06 L498.26,628.27 L498.75,628.47 L499.24,628.67 L499.74,628.85 L500.23,629.02 L500.73,629.18 L501.22,629.31 L501.71,629.44 L502.21,629.54 L502.7,629.63 L503.2,629.71 L503.69,629.77 L504.18,629.82 L504.68,629.86 L505.17,629.89 L505.67,629.92 L506.16,629.94 L506.65,629.95 L507.15,629.96 L507.64,629.97 L508.14,629.97 L508.63,629.97 L509.12,629.98 L509.62,629.97 L510.11,629.97 L510.61,629.97 L511.1,629.96 L511.59,629.96 L512.09,629.95 L512.58,629.94 L513.08,629.93 L513.57,629.92 L514.06,629.91 L514.56,629.89 L515.05,629.88 L515.55,629.86 L516.04,629.83 L516.53,629.81 L517.03,629.78 L517.52,629.75 L518.02,629.72 L518.51,629.68 L519,629.64 L519.5,629.59 L519.99,629.54 L520.49,629.48 L520.98,629.42 L521.47,629.35 L521.97,629.28 L522.46,629.19 L522.96,629.11 L523.45,629.01 L523.94,628.91 L524.44,628.8 L524.93,628.69 L525.43,628.57 L525.92,628.44 L526.41,628.3 L526.91,628.16 L527.4,628.01 L527.9,627.85 L528.39,627.68 L528.88,627.52 L529.38,627.34 L529.87,627.16 L530.37,626.98 L530.86,626.8 L531.35,626.61 L531.85,626.42 L532.34,626.23 L532.84,626.04 L533.33,625.85 L533.82,625.67 L534.32,625.49 L534.81,625.32 L535.31,625.15 L535.8,624.99 L536.29,624.84 L536.79,624.69 L537.28,624.56 L537.78,624.44 L538.27,624.34 L538.76,624.24 L539.26,624.16 L539.75,624.1 L540.25,624.05 L540.74,624.02 L541.23,624 L541.73,624 L542.22,624.02 L542.72,624.05 L543.21,624.1 L543.7,624.16 L544.2,624.24 L544.69,624.33 L545.19,624.44 L545.68,624.55 L546.17,624.68 L546.67,624.83 L547.16,624.98 L547.66,625.14 L548.15,625.3 L548.64,625.48 L549.14,625.66 L549.63,625.84 L550.13,626.03 L550.62,626.22 L551.11,626.4 L551.61,626.59 L552.1,626.78 L552.6,626.97 L553.09,627.15 L553.58,627.33 L554.08,627.5 L554.57,627.67 L555.07,627.83 L555.56,627.99 L556.05,628.14 L556.55,628.28 L557.04,628.41 L557.54,628.54 L558.03,628.65 L558.52,628.76 L559.02,628.86 L559.51,628.94 L560.01,629.01 L560.5,629.07 L560.99,629.11 L561.49,629.13 L561.98,629.13 L562.48,629.11 L562.97,629.07 L563.46,628.99 L563.96,628.87 L564.45,628.72 L564.95,628.52 L565.44,628.27 L565.93,627.96 L566.43,627.6 L566.92,627.16 L567.42,626.66 L567.91,626.08 L568.4,625.42 L568.9,624.69 L569.39,623.88 L569.89,623 L570.38,622.04 L570.87,621.03 L571.37,619.97 L571.86,618.87 L572.36,617.76 L572.85,616.64 L573.34,615.54 L573.84,614.47 L574.33,613.47 L574.83,612.54 L575.32,611.72 L575.81,611.02 L576.31,610.45 L576.8,610.04 L577.3,609.78 L577.79,609.7 L578.28,609.78 L578.78,610.03 L579.27,610.44 L579.77,611 L580.26,611.7 L580.75,612.52 L581.25,613.44 L581.74,614.45 L582.24,615.51 L582.73,616.62 L583.22,617.74 L583.72,618.86 L584.21,619.97 L584.71,621.04 L585.2,622.06 L585.69,623.03 L586.19,623.92 L586.68,624.75 L587.18,625.5 L587.67,626.18 L588.16,626.78 L588.66,627.31 L589.15,627.77 L589.65,628.17 L590.14,628.51 L590.63,628.8 L591.13,629.03 L591.62,629.23 L592.12,629.4 L592.61,629.53 L593.1,629.63 L593.6,629.72 L594.09,629.79 L594.59,629.84 L595.08,629.88 L595.57,629.91 L596.07,629.93 L596.56,629.95 L597.06,629.96 L597.55,629.97 L598.04,629.98 L598.54,629.99 L599.03,629.99 L599.53,629.99 L600.02,630 L600.51,630 L601.01,630 L601.5,630 L602,630 L602.49,630 L602.98,630 L603.48,630 L603.97,630 L604.47,630 L604.96,630 L605.45,630 L605.95,630 L606.44,630 L606.94,630 L607.43,630 L607.92,630 L608.42,630 L608.91,630 L609.41,630 L609.9,630 L610.39,630 L610.89,630 L611.38,630 L611.88,630 L612.37,630 L612.86,630 L613.36,630 L613.85,630 L614.35,630 L614.84,630 L615.33,630 L615.83,630 L616.32,630 L616.82,630 L617.31,630 L617.8,630 L618.3,630 L618.79,630 L619.29,630 L619.78,630 L620.27,630 L620.77,630 L621.26,630 L621.76,630 L622.25,630 L622.74,630 L623.24,630 L623.73,630 L624.23,630 L624.72,630 L625.21,630 L625.71,630 L626.2,630 L626.7,630 L627.19,630 L627.68,630 L628.18,630 L628.67,630 L629.17,630 L629.66,630 L630.15,630 L630.65,630 L631.14,630 L631.64,630 L632.13,630 L632.62,630 L633.12,630 L633.61,630 L634.11,630 L634.6,630 L635.09,630 L635.59,630 L636.08,630 L636.58,630 L637.07,630 L637.56,630 L638.06,630 L638.55,630 L639.05,630 L639.54,630 L640.03,630 L640.53,630 L641.02,630 L641.52,630 L642.01,630 L642.5,630 L643,630 L643.49,630 L643.99,630 L644.48,630 L644.97,630 L645.47,630 L645.96,630 L646.46,630 L646.95,630 L647.44,630 L647.94,630 L648.43,630 L648.93,630 L649.42,630 L649.91,630 L650.41,630 L650.9,630 L651.4,630 L651.89,630 L652.38,630 L652.88,630 L653.37,630 L653.87,630 L654.36,630 L654.85,630 L655.35,630 L655.84,630 L656.34,630 L656.83,630 L657.32,630 L657.82,630 L658.31,630 L658.81,630 L659.3,630 L659.79,630 L660.29,630 L660.78,630 L661.28,630 L661.77,630 L662.26,630 L662.76,630 L663.25,630 L663.75,630 L664.24,630 L664.73,630 L665.23,630 L665.72,630 L666.22,630 L666.71,630 L667.2,630 L667.7,630 L668.19,630 L668.69,630 L669.18,630 L669.67,630 L670.17,630 L670.66,630 L671.16,630 L671.65,630 L672.14,630 L672.64,630 L673.13,630 L673.63,630 L674.12,630 L674.61,630 L675.11,630 L675.6,630 L676.1,630 L676.59,630 L677.08,630 L677.58,630 L678.07,630 L678.57,630 L679.06,630 L679.55,630 L680.05,630 L680.54,630 L681.04,630 L681.53,630 L682.02,630 L682.52,630 L683.01,630 L683.51,630 L684,630" fill="none" stroke="#111" stroke-width="1.2" stroke-linejoin="round" />
<path d="M437,630 L437.49,630 L437.99,630 L438.48,630 L438.98,630 L439.47,630 L439.96,630 L440.46,630 L440.95,630 L441.45,630 L441.94,630 L442.43,630 L442.93,630 L443.42,630 L443.92,630 L444.41,630 L444.9,630 L445.4,630 L445.89,630 L446.39,630 L446.88,630 L447.37,630 L447.87,630 L448.36,630 L448.86,630 L449.35,630 L449.84,630 L450.34,630 L450.83,630 L451.33,630 L451.82,630 L452.31,630 L452.81,630 L453.3,630 L453.8,630 L454.29,630 L454.78,630 L455.28,630 L455.77,630 L456.27,630 L456.76,630 L457.25,630 L457.75,630 L458.24,630 L458.74,630 L459.23,630 L459.72,630 L460.22,630 L460.71,630 L461.21,630 L461.7,630 L462.19,630 L462.69,630 L463.18,630 L463.68,630 L464.17,630 L464.66,630 L465.16,630 L465.65,630 L466.15,630 L466.64,630 L467.13,630 L467.63,630 L468.12,630 L468.62,630 L469.11,630 L469.6,630 L470.1,630 L470.59,630 L471.09,630 L471.58,630 L472.07,630 L472.57,630 L473.06,630 L473.56,630 L474.05,630 L474.54,630 L475.04,630 L475.53,630 L476.03,630 L476.52,630 L477.01,630 L477.51,630 L478,630 L478.5,629.99 L478.99,629.99 L479.48,629.98 L479.98,629.98 L480.47,629.96 L480.97,629.95 L481.46,629.93 L481.95,629.9 L482.45,629.86 L482.94,629.82 L483.44,629.75 L483.93,629.68 L484.42,629.58 L484.92,629.47 L485.41,629.33 L485.91,629.17 L486.4,628.98 L486.89,628.76 L487.39,628.53 L487.88,628.27 L488.38,628 L488.87,627.71 L489.36,627.42 L489.86,627.13 L490.35,626.85 L490.85,626.59 L491.34,626.36 L491.83,626.18 L492.33,626.03 L492.82,625.94 L493.32,625.9 L493.81,625.92 L494.3,625.99 L494.8,626.12 L495.29,626.3 L495.79,626.51 L496.28,626.76 L496.77,627.03 L497.27,627.32 L497.76,627.61 L498.26,627.9 L498.75,628.18 L499.24,628.44 L499.74,628.69 L500.23,628.91 L500.73,629.1 L501.22,629.27 L501.71,629.42 L502.21,629.54 L502.7,629.65 L503.2,629.73 L503.69,629.79 L504.18,629.84 L504.68,629.88 L505.17,629.91 L505.67,629.93 L506.16,629.95 L506.65,629.95 L507.15,629.96 L507.64,629.96 L508.14,629.95 L508.63,629.95 L509.12,629.93 L509.62,629.92 L510.11,629.9 L510.61,629.88 L511.1,629.85 L511.59,629.81 L512.09,629.77 L512.58,629.72 L513.08,629.67 L513.57,629.6 L514.06,629.52 L514.56,629.42 L515.05,629.32 L515.55,629.19 L516.04,629.05 L516.53,628.89 L517.03,628.71 L517.52,628.51 L518.02,628.29 L518.51,628.05 L519,627.78 L519.5,627.49 L519.99,627.17 L520.49,626.83 L520.98,626.48 L521.47,626.1 L521.97,625.7 L522.46,625.28 L522.96,624.86 L523.45,624.42 L523.94,623.98 L524.44,623.54 L524.93,623.11 L525.43,622.68 L525.92,622.27 L526.41,621.88 L526.91,621.51 L527.4,621.17 L527.9,620.87 L528.39,620.61 L528.88,620.39 L529.38,620.22 L529.87,620.09 L530.37,620.02 L530.86,620 L531.35,620.03 L531.85,620.12 L532.34,620.25 L532.84,620.44 L533.33,620.67 L533.82,620.94 L534.32,621.25 L534.81,621.6 L535.31,621.97 L535.8,622.37 L536.29,622.78 L536.79,623.21 L537.28,623.65 L537.78,624.09 L538.27,624.53 L538.76,624.96 L539.26,625.39 L539.75,625.8 L540.25,626.19 L540.74,626.56 L541.23,626.92 L541.73,627.25 L542.22,627.56 L542.72,627.85 L543.21,628.11 L543.7,628.35 L544.2,628.56 L544.69,628.76 L545.19,628.93 L545.68,629.08 L546.17,629.22 L546.67,629.33 L547.16,629.43 L547.66,629.52 L548.15,629.59 L548.64,629.64 L549.14,629.68 L549.63,629.71 L550.13,629.72 L550.62,629.72 L551.11,629.7 L551.61,629.66 L552.1,629.59 L552.6,629.5 L553.09,629.37 L553.58,629.21 L554.08,629 L554.57,628.73 L555.07,628.4 L555.56,628 L556.05,627.52 L556.55,626.94 L557.04,626.25 L557.54,625.46 L558.03,624.54 L558.52,623.48 L559.02,622.3 L559.51,620.97 L560.01,619.51 L560.5,617.91 L560.99,616.19 L561.49,614.37 L561.98,612.46 L562.48,610.48 L562.97,608.47 L563.46,606.46 L563.96,604.48 L564.45,602.57 L564.95,600.78 L565.44,599.14 L565.93,597.69 L566.43,596.46 L566.92,595.49 L567.42,594.79 L567.91,594.4 L568.4,594.31 L568.9,594.53 L569.39,595.05 L569.89,595.86 L570.38,596.95 L570.87,598.27 L571.37,599.81 L571.86,601.52 L572.36,603.36 L572.85,605.3 L573.34,607.3 L573.84,609.32 L574.33,611.32 L574.83,613.27 L575.32,615.15 L575.81,616.93 L576.31,618.6 L576.8,620.14 L577.3,621.55 L577.79,622.81 L578.28,623.95 L578.78,624.94 L579.27,625.81 L579.77,626.56 L580.26,627.2 L580.75,627.74 L581.25,628.19 L581.74,628.57 L582.24,628.87 L582.73,629.12 L583.22,629.32 L583.72,629.48 L584.21,629.61 L584.71,629.7 L585.2,629.78 L585.69,629.84 L586.19,629.88 L586.68,629.91 L587.18,629.94 L587.67,629.96 L588.16,629.97 L588.66,629.98 L589.15,629.98 L589.65,629.99 L590.14,629.99 L590.63,630 L591.13,630 L591.62,630 L592.12,630 L592.61,630 L593.1,630 L593.6,630 L594.09,630 L594.59,630 L595.08,630 L595.57,630 L596.07,630 L596.56,630 L597.06,630 L597.55,630 L598.04,630 L598.54,630 L599.03,630 L599.53,630 L600.02,630 L600.51,630 L601.01,630 L601.5,630 L602,630 L602.49,630 L602.98,630 L603.48,630 L603.97,630 L604.47,630 L604.96,630 L605.45,630 L605.95,630 L606.44,630 L606.94,630 L607.43,630 L607.92,630 L608.42,630 L608.91,630 L609.41,630 L609.9,630 L610.39,630 L610.89,630 L611.38,630 L611.88,630 L612.37,630 L612.86,630 L613.36,630 L613.85,630 L614.35,630 L614.84,630 L615.33,630 L615.83,630 L616.32,630 L616.82,630 L617.31,630 L617.8,630 L618.3,630 L618.79,630 L619.29,630 L619.78,630 L620.27,630 L620.77,630 L621.26,630 L621.76,630 L622.25,630 L622.74,630 L623.24,630 L623.73,630 L624.23,630 L624.72,630 L625.21,630 L625.71,630 L626.2,630 L626.7,630 L627.19,630 L627.68,630 L628.18,630 L628.67,630 L629.17,630 L629.66,630 L630.15,630 L630.65,630 L631.14,630 L631.64,630 L632.13,630 L632.62,630 L633.12,630 L633.61,630 L634.11,630 L634.6,630 L635.09,630 L635.59,630 L636.08,630 L636.58,630 L637.07,630 L637.56,630 L638.06,630 L638.55,630 L639.05,630 L639.54,630 L640.03,630 L640.53,630 L641.02,630 L641.52,630 L642.01,630 L642.5,630 L643,630 L643.49,630 L643.99,630 L644.48,630 L644.97,630 L645.47,630 L645.96,630 L646.46,630 L646.95,630 L647.44,630 L647.94,630 L648.43,630 L648.93,630 L649.42,630 L649.91,630 L650.41,630 L650.9,630 L651.4,630 L651.89,630 L652.38,630 L652.88,630 L653.37,630 L653.87,630 L654.36,630 L654.85,630 L655.35,630 L655.84,630 L656.34,630 L656.83,630 L657.32,630 L657.82,630 L658.31,630 L658.81,630 L659.3,630 L659.79,630 L660.29,630 L660.78,630 L661.28,630 L661.77,630 L662.26,630 L662.76,630 L663.25,630 L663.75,630 L664.24,630 L664.73,630 L665.23,630 L665.72,630 L666.22,630 L666.71,630 L667.2,630 L667.7,630 L668.19,630 L668.69,630 L669.18,630 L669.67,630 L670.17,630 L670.66,630 L671.16,630 L671.65,630 L672.14,630 L672.64,630 L673.13,630 L673.63,630 L674.12,630 L674.61,630 L675.11,630 L675.6,630 L676.1,630 L676.59,630 L677.08,630 L677.58,630 L678.07,630 L678.57,630 L679.06,630 L679.55,630 L680.05,630 L680.54,630 L681.04,630 L681.53,630 L682.02,630 L682.52,630 L683.01,630 L683.51,630 L684,630" fill="none" stroke="#ff0000" stroke-width="1.2" stroke-linejoin="round" />
<path d="M437,630 L437.31,630 L437.62,630 L437.93,630 L438.24,630 L438.54,630 L438.85,630 L439.16,630 L439.47,630 L439.78,630 L440.09,630 L440.4,630 L440.7,630 L441.01,630 L441.32,630 L441.63,630 L441.94,630 L442.25,630 L442.56,630 L442.87,630 L443.18,630 L443.48,630 L443.79,630 L444.1,630 L444.41,630 L444.72,630 L445.03,630 L445.34,630 L445.64,630 L445.95,630 L446.26,630 L446.57,630 L446.88,630 L447.19,630 L447.5,630 L447.81,630 L448.12,630 L448.42,630 L448.73,630 L449.04,630 L449.35,630 L449.66,630 L449.97,630 L450.28,630 L450.58,630 L450.89,630 L451.2,630 L451.51,630 L451.82,630 L452.13,630 L452.44,630 L452.75,630 L453.06,630 L453.36,630 L453.67,630 L453.98,630 L454.29,630 L454.6,630 L454.91,630 L455.22,630 L455.52,630 L455.83,630 L456.14,630 L456.45,630 L456.76,630 L457.07,630 L457.38,630 L457.69,630 L458,630 L458.3,630 L458.61,630 L458.92,630 L459.23,630 L459.54,630 L459.85,630 L460.16,630 L460.46,630 L460.77,630 L461.08,630 L461.39,630 L461.7,630 L462.01,630 L462.32,630 L462.63,630 L462.94,630 L463.24,630 L463.55,630 L463.86,630 L464.17,630 L464.48,630 L464.79,630 L465.1,630 L465.4,630 L465.71,630 L466.02,630 L466.33,630 L466.64,630 L466.95,630 L467.26,630 L467.57,630 L467.88,630 L468.18,630 L468.49,630 L468.8,630 L469.11,630 L469.42,630 L469.73,630 L470.04,630 L470.35,630 L470.65,630 L470.96,630 L471.27,630 L471.58,630 L471.89,630 L472.2,630 L472.51,630 L472.81,630 L473.12,630 L473.43,630 L473.74,630 L474.05,630 L474.36,630 L474.67,630 L474.98,630 L475.28,630 L475.59,630 L475.9,630 L476.21,630 L476.52,630 L476.83,630 L477.14,630 L477.45,630 L477.75,630 L478.06,630 L478.37,630 L478.68,630 L478.99,630 L479.3,630 L479.61,630 L479.92,630 L480.23,630 L480.53,630 L480.84,630 L481.15,630 L481.46,630 L481.77,630 L482.08,629.99 L482.39,629.99 L482.69,629.98 L483,629.97 L483.31,629.95 L483.62,629.93 L483.93,629.89 L484.24,629.85 L484.55,629.78 L484.86,629.7 L485.17,629.6 L485.47,629.47 L485.78,629.31 L486.09,629.12 L486.4,628.9 L486.71,628.64 L487.02,628.35 L487.33,628.02 L487.63,627.66 L487.94,627.27 L488.25,626.86 L488.56,626.42 L488.87,625.96 L489.18,625.5 L489.49,625.02 L489.8,624.55 L490.11,624.07 L490.41,623.61 L490.72,623.15 L491.03,622.72 L491.34,622.3 L491.65,621.9 L491.96,621.53 L492.27,621.18 L492.57,620.85 L492.88,620.56 L493.19,620.29 L493.5,620.04 L493.81,619.82 L494.12,619.62 L494.43,619.45 L494.74,619.3 L495.05,619.16 L495.35,619.05 L495.66,618.95 L495.97,618.86 L496.28,618.79 L496.59,618.73 L496.9,618.68 L497.21,618.64 L497.51,618.61 L497.82,618.58 L498.13,618.56 L498.44,618.54 L498.75,618.53 L499.06,618.52 L499.37,618.51 L499.68,618.51 L499.99,618.5 L500.29,618.5 L500.6,618.5 L500.91,618.5 L501.22,618.49 L501.53,618.49 L501.84,618.49 L502.15,618.49 L502.45,618.49 L502.76,618.48 L503.07,618.48 L503.38,618.48 L503.69,618.47 L504,618.47 L504.31,618.46 L504.62,618.45 L504.93,618.45 L505.23,618.44 L505.54,618.43 L505.85,618.41 L506.16,618.4 L506.47,618.39 L506.78,618.38 L507.09,618.36 L507.39,618.35 L507.7,618.33 L508.01,618.32 L508.32,618.31 L508.63,618.29 L508.94,618.28 L509.25,618.28 L509.56,618.28 L509.87,618.28 L510.17,618.29 L510.48,618.3 L510.79,618.33 L511.1,618.36 L511.41,618.4 L511.72,618.46 L512.03,618.52 L512.34,618.6 L512.64,618.7 L512.95,618.81 L513.26,618.93 L513.57,619.07 L513.88,619.23 L514.19,619.4 L514.5,619.58 L514.81,619.78 L515.11,619.99 L515.42,620.2 L515.73,620.42 L516.04,620.64 L516.35,620.85 L516.66,621.06 L516.97,621.26 L517.27,621.44 L517.58,621.6 L517.89,621.74 L518.2,621.84 L518.51,621.92 L518.82,621.97 L519.13,621.99 L519.44,621.97 L519.75,621.92 L520.05,621.85 L520.36,621.74 L520.67,621.62 L520.98,621.47 L521.29,621.31 L521.6,621.14 L521.91,620.96 L522.22,620.78 L522.52,620.6 L522.83,620.43 L523.14,620.26 L523.45,620.1 L523.76,619.95 L524.07,619.81 L524.38,619.68 L524.68,619.57 L524.99,619.46 L525.3,619.36 L525.61,619.28 L525.92,619.2 L526.23,619.12 L526.54,619.05 L526.85,618.98 L527.15,618.91 L527.46,618.84 L527.77,618.77 L528.08,618.69 L528.39,618.6 L528.7,618.5 L529.01,618.4 L529.32,618.27 L529.62,618.13 L529.93,617.97 L530.24,617.8 L530.55,617.6 L530.86,617.37 L531.17,617.13 L531.48,616.85 L531.79,616.55 L532.1,616.22 L532.4,615.86 L532.71,615.48 L533.02,615.06 L533.33,614.61 L533.64,614.13 L533.95,613.62 L534.26,613.08 L534.57,612.51 L534.87,611.91 L535.18,611.28 L535.49,610.63 L535.8,609.95 L536.11,609.24 L536.42,608.51 L536.73,607.76 L537.03,606.99 L537.34,606.2 L537.65,605.39 L537.96,604.57 L538.27,603.74 L538.58,602.89 L538.89,602.04 L539.2,601.18 L539.5,600.32 L539.81,599.45 L540.12,598.59 L540.43,597.73 L540.74,596.88 L541.05,596.03 L541.36,595.2 L541.67,594.38 L541.98,593.57 L542.28,592.78 L542.59,592.02 L542.9,591.27 L543.21,590.56 L543.52,589.87 L543.83,589.2 L544.14,588.58 L544.44,587.98 L544.75,587.42 L545.06,586.9 L545.37,586.41 L545.68,585.97 L545.99,585.57 L546.3,585.21 L546.61,584.9 L546.91,584.63 L547.22,584.41 L547.53,584.23 L547.84,584.11 L548.15,584.03 L548.46,584 L548.77,584.04 L549.08,584.21 L549.38,584.5 L549.69,584.9 L550,585.42 L550.31,586.05 L550.62,586.78 L550.93,587.62 L551.24,588.55 L551.55,589.56 L551.86,590.66 L552.16,591.82 L552.47,593.05 L552.78,594.34 L553.09,595.67 L553.4,597.04 L553.71,598.44 L554.02,599.86 L554.33,601.29 L554.63,602.72 L554.94,604.15 L555.25,605.58 L555.56,606.98 L555.87,608.36 L556.18,609.71 L556.49,611.03 L556.79,612.31 L557.1,613.55 L557.41,614.74 L557.72,615.88 L558.03,616.97 L558.34,618.01 L558.65,618.99 L558.96,619.92 L559.26,620.8 L559.57,621.62 L559.88,622.39 L560.19,623.11 L560.5,623.77 L560.81,624.39 L561.12,624.96 L561.43,625.48 L561.74,625.96 L562.04,626.4 L562.35,626.8 L562.66,627.16 L562.97,627.49 L563.28,627.78 L563.59,628.05 L563.9,628.29 L564.21,628.5 L564.51,628.69 L564.82,628.86 L565.13,629.01 L565.44,629.14 L565.75,629.26 L566.06,629.36 L566.37,629.45 L566.67,629.52 L566.98,629.59 L567.29,629.64 L567.6,629.68 L567.91,629.72 L568.22,629.75 L568.53,629.77 L568.84,629.77 L569.14,629.78 L569.45,629.77 L569.76,629.75 L570.07,629.71 L570.38,629.67 L570.69,629.6 L571,629.52 L571.31,629.42 L571.62,629.28 L571.92,629.12 L572.23,628.92 L572.54,628.68 L572.85,628.39 L573.16,628.05 L573.47,627.63 L573.78,627.15 L574.09,626.58 L574.39,625.92 L574.7,625.15 L575.01,624.26 L575.32,623.24 L575.63,622.08 L575.94,620.77 L576.25,619.29 L576.56,617.64 L576.86,615.81 L577.17,613.78 L577.48,611.55 L577.79,609.11 L578.1,606.48 L578.41,603.64 L578.72,600.6 L579.02,597.37 L579.33,593.97 L579.64,590.41 L579.95,586.71 L580.26,582.89 L580.57,578.99 L580.88,575.04 L581.19,571.08 L581.5,567.14 L581.8,563.26 L582.11,559.5 L582.42,555.89 L582.73,552.47 L583.04,549.3 L583.35,546.41 L583.66,543.84 L583.97,541.63 L584.27,539.8 L584.58,538.39 L584.89,537.42 L585.2,536.9 L585.51,536.83 L585.82,537.22 L586.13,538.06 L586.43,539.34 L586.74,541.05 L587.05,543.15 L587.36,545.61 L587.67,548.41 L587.98,551.51 L588.29,554.86 L588.6,558.41 L588.9,562.14 L589.21,565.99 L589.52,569.91 L589.83,573.87 L590.14,577.83 L590.45,581.75 L590.76,585.59 L591.07,589.33 L591.38,592.93 L591.68,596.38 L591.99,599.66 L592.3,602.76 L592.61,605.66 L592.92,608.36 L593.23,610.85 L593.54,613.14 L593.85,615.23 L594.15,617.12 L594.46,618.83 L594.77,620.35 L595.08,621.71 L595.39,622.92 L595.7,623.97 L596.01,624.9 L596.32,625.7 L596.62,626.4 L596.93,627 L597.24,627.51 L597.55,627.94 L597.86,628.31 L598.17,628.62 L598.48,628.87 L598.78,629.09 L599.09,629.27 L599.4,629.41 L599.71,629.53 L600.02,629.63 L600.33,629.71 L600.64,629.77 L600.95,629.82 L601.25,629.86 L601.56,629.89 L601.87,629.92 L602.18,629.94 L602.49,629.95 L602.8,629.96 L603.11,629.97 L603.42,629.98 L603.73,629.98 L604.03,629.99 L604.34,629.99 L604.65,629.99 L604.96,630 L605.27,630 L605.58,630 L605.89,630 L606.19,630 L606.5,630 L606.81,630 L607.12,630 L607.43,630 L607.74,630 L608.05,630 L608.36,630 L608.66,630 L608.97,630 L609.28,630 L609.59,630 L609.9,630 L610.21,630 L610.52,630 L610.83,630 L611.13,630 L611.44,630 L611.75,630 L612.06,630 L612.37,630 L612.68,630 L612.99,630 L613.3,630 L613.61,630 L613.91,630 L614.22,630 L614.53,630 L614.84,630 L615.15,630 L615.46,630 L615.77,630 L616.08,630 L616.38,630 L616.69,630 L617,630 L617.31,630 L617.62,630 L617.93,630 L618.24,630 L618.54,630 L618.85,630 L619.16,630 L619.47,630 L619.78,630 L620.09,630 L620.4,630 L620.71,630 L621.01,630 L621.32,630 L621.63,630 L621.94,630 L622.25,630 L622.56,630 L622.87,630 L623.18,630 L623.49,630 L623.79,630 L624.1,630 L624.41,630 L624.72,630 L625.03,630 L625.34,630 L625.65,630 L625.96,630 L626.26,630 L626.57,630 L626.88,630 L627.19,630 L627.5,630 L627.81,630 L628.12,630 L628.42,630 L628.73,630 L629.04,630 L629.35,630 L629.66,630 L629.97,630 L630.28,630 L630.59,630 L630.89,630 L631.2,630 L631.51,630 L631.82,630 L632.13,630 L632.44,630 L632.75,630 L633.06,630 L633.37,630 L633.67,630 L633.98,630 L634.29,630 L634.6,630 L634.91,630 L635.22,630 L635.53,630 L635.84,630 L636.14,630 L636.45,630 L636.76,630 L637.07,630 L637.38,630 L637.69,630 L638,630 L638.31,630 L638.61,630 L638.92,630 L639.23,630 L639.54,630 L639.85,630 L640.16,630 L640.47,630 L640.77,630 L641.08,630 L641.39,630 L641.7,630 L642.01,630 L642.32,630 L642.63,630 L642.94,630 L643.25,630 L643.55,630 L643.86,630 L644.17,630 L644.48,630 L644.79,630 L645.1,630 L645.41,630 L645.72,630 L646.02,630 L646.33,630 L646.64,630 L646.95,630 L647.26,630 L647.57,630 L647.88,630 L648.18,630 L648.49,630 L648.8,630 L649.11,630 L649.42,630 L649.73,630 L650.04,630 L650.35,630 L650.65,630 L650.96,630 L651.27,630 L651.58,630 L651.89,630 L652.2,630 L652.51,630 L652.82,630 L653.12,630 L653.43,630 L653.74,630 L654.05,630 L654.36,630 L654.67,630 L654.98,630 L655.29,630 L655.6,630 L655.9,630 L656.21,630 L656.52,630 L656.83,630 L657.14,630 L657.45,630 L657.76,630 L658.07,630 L658.37,630 L658.68,630 L658.99,630 L659.3,630 L659.61,630 L659.92,630 L660.23,630 L660.53,630 L660.84,630 L661.15,630 L661.46,630 L661.77,630 L662.08,630 L662.39,630 L662.7,630 L663,630 L663.31,630 L663.62,630 L663.93,630 L664.24,630 L664.55,630 L664.86,630 L665.17,630 L665.48,630 L665.78,630 L666.09,630 L666.4,630 L666.71,630 L667.02,630 L667.33,630 L667.64,630 L667.94,630 L668.25,630 L668.56,630 L668.87,630 L669.18,630 L669.49,630 L669.8,630 L670.11,630 L670.41,630 L670.72,630 L671.03,630 L671.34,630 L671.65,630 L671.96,630 L672.27,630 L672.58,630 L672.88,630 L673.19,630 L673.5,630 L673.81,630 L674.12,630 L674.43,630 L674.74,630 L675.05,630 L675.36,630 L675.66,630 L675.97,630 L676.28,630 L676.59,630 L676.9,630 L677.21,630 L677.52,630 L677.83,630 L678.13,630 L678.44,630 L678.75,630 L679.06,630 L679.37,630 L679.68,630 L679.99,630 L680.29,630 L680.6,630 L680.91,630 L681.22,630 L681.53,630 L681.84,630 L682.15,630 L682.46,630 L682.76,630 L683.07,630 L683.38,630 L683.69,630 L684,630" fill="none" stroke="#22ee22" stroke-width="1.2" stroke-linejoin="round" />
</g>
<rect x="437.5" y="522.5" width="246" height="110" fill="none" stroke="#2a2a2a" stroke-width="1"/>
<line x1="454.5" y1="632.5" x2="454.5" y2="629" stroke="#2a2a2a" stroke-width="1" />
<line x1="454.5" y1="522.5" x2="454.5" y2="526" stroke="#2a2a2a" stroke-width="1" />
<line x1="495.74" y1="632.5" x2="495.74" y2="629" stroke="#2a2a2a" stroke-width="1" />
<line x1="495.74" y1="522.5" x2="495.74" y2="526" stroke="#2a2a2a" stroke-width="1" />
<line x1="536.98" y1="632.5" x2="536.98" y2="629" stroke="#2a2a2a" stroke-width="1" />
<line x1="536.98" y1="522.5" x2="536.98" y2="526" stroke="#2a2a2a" stroke-width="1" />
<line x1="578.22" y1="632.5" x2="578.22" y2="629" stroke="#2a2a2a" stroke-width="1" />
<line x1="578.22" y1="522.5" x2="578.22" y2="526" stroke="#2a2a2a" stroke-width="1" />
<line x1="619.46" y1="632.5" x2="619.46" y2="629" stroke="#2a2a2a" stroke-width="1" />
<line x1="619.46" y1="522.5" x2="619.46" y2="526" stroke="#2a2a2a" stroke-width="1" />
<line x1="660.7" y1="632.5" x2="660.7" y2="629" stroke="#2a2a2a" stroke-width="1" />
<line x1="660.7" y1="522.5" x2="660.7" y2="526" stroke="#2a2a2a" stroke-width="1" />
<line x1="438.09" y1="632.5" x2="438.09" y2="630.5" stroke="#2a2a2a" stroke-width="1" />
<line x1="438.09" y1="522.5" x2="438.09" y2="524.5" stroke="#2a2a2a" stroke-width="1" />
<line x1="442.09" y1="632.5" x2="442.09" y2="630.5" stroke="#2a2a2a" stroke-width="1" />
<line x1="442.09" y1="522.5" x2="442.09" y2="524.5" stroke="#2a2a2a" stroke-width="1" />
<line x1="445.35" y1="632.5" x2="445.35" y2="630.5" stroke="#2a2a2a" stroke-width="1" />
<line x1="445.35" y1="522.5" x2="445.35" y2="524.5" stroke="#2a2a2a" stroke-width="1" />
<line x1="448.11" y1="632.5" x2="448.11" y2="630.5" stroke="#2a2a2a" stroke-width="1" />
<line x1="448.11" y1="522.5" x2="448.11" y2="524.5" stroke="#2a2a2a" stroke-width="1" />
<line x1="450.5" y1="632.5" x2="450.5" y2="630.5" stroke="#2a2a2a" stroke-width="1" />
<line x1="450.5" y1="522.5" x2="450.5" y2="524.5" stroke="#2a2a2a" stroke-width="1" />
<line x1="452.61" y1="632.5" x2="452.61" y2="630.5" stroke="#2a2a2a" stroke-width="1" />
<line x1="452.61" y1="522.5" x2="452.61" y2="524.5" stroke="#2a2a2a" stroke-width="1" />
<line x1="466.91" y1="632.5" x2="466.91" y2="630.5" stroke="#2a2a2a" stroke-width="1" />
<line x1="466.91" y1="522.5" x2="466.91" y2="524.5" stroke="#2a2a2a" stroke-width="1" />
<line x1="474.18" y1="632.5" x2="474.18" y2="630.5" stroke="#2a2a2a" stroke-width="1" />
<line x1="474.18" y1="522.5" x2="474.18" y2="524.5" stroke="#2a2a2a" stroke-width="1" />
<line x1="479.33" y1="632.5" x2="479.33" y2="630.5" stroke="#2a2a2a" stroke-width="1" />
<line x1="479.33" y1="522.5" x2="479.33" y2="524.5" stroke="#2a2a2a" stroke-width="1" />
<line x1="483.33" y1="632.5" x2="483.33" y2="630.5" stroke="#2a2a2a" stroke-width="1" />
<line x1="483.33" y1="522.5" x2="483.33" y2="524.5" stroke="#2a2a2a" stroke-width="1" />
<line x1="486.59" y1="632.5" x2="486.59" y2="630.5" stroke="#2a2a2a" stroke-width="1" />
<line x1="486.59" y1="522.5" x2="486.59" y2="524.5" stroke="#2a2a2a" stroke-width="1" />
<line x1="489.35" y1="632.5" x2="489.35" y2="630.5" stroke="#2a2a2a" stroke-width="1" />
<line x1="489.35" y1="522.5" x2="489.35" y2="524.5" stroke="#2a2a2a" stroke-width="1" />
<line x1="491.74" y1="632.5" x2="491.74" y2="630.5" stroke="#2a2a2a" stroke-width="1" />
<line x1="491.74" y1="522.5" x2="491.74" y2="524.5" stroke="#2a2a2a" stroke-width="1" />
<line x1="493.85" y1="632.5" x2="493.85" y2="630.5" stroke="#2a2a2a" stroke-width="1" />
<line x1="493.85" y1="522.5" x2="493.85" y2="524.5" stroke="#2a2a2a" stroke-width="1" />
<line x1="508.15" y1="632.5" x2="508.15" y2="630.5" stroke="#2a2a2a" stroke-width="1" />
<line x1="508.15" y1="522.5" x2="508.15" y2="524.5" stroke="#2a2a2a" stroke-width="1" />
<line x1="515.42" y1="632.5" x2="515.42" y2="630.5" stroke="#2a2a2a" stroke-width="1" />
<line x1="515.42" y1="522.5" x2="515.42" y2="524.5" stroke="#2a2a2a" stroke-width="1" />
<line x1="520.57" y1="632.5" x2="520.57" y2="630.5" stroke="#2a2a2a" stroke-width="1" />
<line x1="520.57" y1="522.5" x2="520.57" y2="524.5" stroke="#2a2a2a" stroke-width="1" />
<line x1="524.57" y1="632.5" x2="524.57" y2="630.5" stroke="#2a2a2a" stroke-width="1" />
<line x1="524.57" y1="522.5" x2="524.57" y2="524.5" stroke="#2a2a2a" stroke-width="1" />
<line x1="527.83" y1="632.5" x2="527.83" y2="630.5" stroke="#2a2a2a" stroke-width="1" />
<line x1="527.83" y1="522.5" x2="527.83" y2="524.5" stroke="#2a2a2a" stroke-width="1" />
<line x1="530.59" y1="632.5" x2="530.59" y2="630.5" stroke="#2a2a2a" stroke-width="1" />
<line x1="530.59" y1="522.5" x2="530.59" y2="524.5" stroke="#2a2a2a" stroke-width="1" />
<line x1="532.98" y1="632.5" x2="532.98" y2="630.5" stroke="#2a2a2a" stroke-width="1" />
<line x1="532.98" y1="522.5" x2="532.98" y2="524.5" stroke="#2a2a2a" stroke-width="1" />
<line x1="535.09" y1="632.5" x2="535.09" y2="630.5" stroke="#2a2a2a" stroke-width="1" />
<line x1="535.09" y1="522.5" x2="535.09" y2="524.5" stroke="#2a2a2a" stroke-width="1" />
<line x1="549.39" y1="632.5" x2="549.39" y2="630.5" stroke="#2a2a2a" stroke-width="1" />
<line x1="549.39" y1="522.5" x2="549.39" y2="524.5" stroke="#2a2a2a" stroke-width="1" />
<line x1="556.66" y1="632.5" x2="556.66" y2="630.5" stroke="#2a2a2a" stroke-width="1" />
<line x1="556.66" y1="522.5" x2="556.66" y2="524.5" stroke="#2a2a2a" stroke-width="1" />
<line x1="561.81" y1="632.5" x2="561.81" y2="630.5" stroke="#2a2a2a" stroke-width="1" />
<line x1="561.81" y1="522.5" x2="561.81" y2="524.5" stroke="#2a2a2a" stroke-width="1" />
<line x1="565.81" y1="632.5" x2="565.81" y2="630.5" stroke="#2a2a2a" stroke-width="1" />
<line x1="565.81" y1="522.5" x2="565.81" y2="524.5" stroke="#2a2a2a" stroke-width="1" />
<line x1="569.07" y1="632.5" x2="569.07" y2="630.5" stroke="#2a2a2a" stroke-width="1" />
<line x1="569.07" y1="522.5" x2="569.07" y2="524.5" stroke="#2a2a2a" stroke-width="1" />
<line x1="571.83" y1="632.5" x2="571.83" y2="630.5" stroke="#2a2a2a" stroke-width="1" />
<line x1="571.83" y1="522.5" x2="571.83" y2="524.5" stroke="#2a2a2a" stroke-width="1" />
<line x1="574.22" y1="632.5" x2="574.22" y2="630.5" stroke="#2a2a2a" stroke-width="1" />
<line x1="574.22" y1="522.5" x2="574.22" y2="524.5" stroke="#2a2a2a" stroke-width="1" />
<line x1="576.33" y1="632.5" x2="576.33" y2="630.5" stroke="#2a2a2a" stroke-width="1" />
<line x1="576.33" y1="522.5" x2="576.33" y2="524.5" stroke="#2a2a2a" stroke-width="1" />
<line x1="590.63" y1="632.5" x2="590.63" y2="630.5" stroke="#2a2a2a" stroke-width="1" />
<line x1="590.63" y1="522.5" x2="590.63" y2="524.5" stroke="#2a2a2a" stroke-width="1" />
<line x1="597.9" y1="632.5" x2="597.9" y2="630.5" stroke="#2a2a2a" stroke-width="1" />
<line x1="597.9" y1="522.5" x2="597.9" y2="524.5" stroke="#2a2a2a" stroke-width="1" />
<line x1="603.05" y1="632.5" x2="603.05" y2="630.5" stroke="#2a2a2a" stroke-width="1" />
<line x1="603.05" y1="522.5" x2="603.05" y2="524.5" stroke="#2a2a2a" stroke-width="1" />
<line x1="607.05" y1="632.5" x2="607.05" y2="630.5" stroke="#2a2a2a" stroke-width="1" />
<line x1="607.05" y1="522.5" x2="607.05" y2="524.5" stroke="#2a2a2a" stroke-width="1" />
<line x1="610.31" y1="632.5" x2="610.31" y2="630.5" stroke="#2a2a2a" stroke-width="1" />
<line x1="610.31" y1="522.5" x2="610.31" y2="524.5" stroke="#2a2a2a" stroke-width="1" />
<line x1="613.07" y1="632.5" x2="613.07" y2="630.5" stroke="#2a2a2a" stroke-width="1" />
<line x1="613.07" y1="522.5" x2="613.07" y2="524.5" stroke="#2a2a2a" stroke-width="1" />
<line x1="615.46" y1="632.5" x2="615.46" y2="630.5" stroke="#2a2a2a" stroke-width="1" />
<line x1="615.46" y1="522.5" x2="615.46" y2="524.5" stroke="#2a2a2a" stroke-width="1" />
<line x1="617.57" y1="632.5" x2="617.57" y2="630.5" stroke="#2a2a2a" stroke-width="1" />
<line x1="617.57" y1="522.5" x2="617.57" y2="524.5" stroke="#2a2a2a" stroke-width="1" />
<line x1="631.87" y1="632.5" x2="631.87" y2="630.5" stroke="#2a2a2a" stroke-width="1" />
<line x1="631.87" y1="522.5" x2="631.87" y2="524.5" stroke="#2a2a2a" stroke-width="1" />
<line x1="639.14" y1="632.5" x2="639.14" y2="630.5" stroke="#2a2a2a" stroke-width="1" />
<line x1="639.14" y1="522.5" x2="639.14" y2="524.5" stroke="#2a2a2a" stroke-width="1" />
<line x1="644.29" y1="632.5" x2="644.29" y2="630.5" stroke="#2a2a2a" stroke-width="1" />
<line x1="644.29" y1="522.5" x2="644.29" y2="524.5" stroke="#2a2a2a" stroke-width="1" />
<line x1="648.29" y1="632.5" x2="648.29" y2="630.5" stroke="#2a2a2a" stroke-width="1" />
<line x1="648.29" y1="522.5" x2="648.29" y2="524.5" stroke="#2a2a2a" stroke-width="1" />
<line x1="651.55" y1="632.5" x2="651.55" y2="630.5" stroke="#2a2a2a" stroke-width="1" />
<line x1="651.55" y1="522.5" x2="651.55" y2="524.5" stroke="#2a2a2a" stroke-width="1" />
<line x1="654.31" y1="632.5" x2="654.31" y2="630.5" stroke="#2a2a2a" stroke-width="1" />
<line x1="654.31" y1="522.5" x2="654.31" y2="524.5" stroke="#2a2a2a" stroke-width="1" />
<line x1="656.7" y1="632.5" x2="656.7" y2="630.5" stroke="#2a2a2a" stroke-width="1" />
<line x1="656.7" y1="522.5" x2="656.7" y2="524.5" stroke="#2a2a2a" stroke-width="1" />
<line x1="658.81" y1="632.5" x2="658.81" y2="630.5" stroke="#2a2a2a" stroke-width="1" />
<line x1="658.81" y1="522.5" x2="658.81" y2="524.5" stroke="#2a2a2a" stroke-width="1" />
<line x1="673.11" y1="632.5" x2="673.11" y2="630.5" stroke="#2a2a2a" stroke-width="1" />
<line x1="673.11" y1="522.5" x2="673.11" y2="524.5" stroke="#2a2a2a" stroke-width="1" />
<line x1="680.38" y1="632.5" x2="680.38" y2="630.5" stroke="#2a2a2a" stroke-width="1" />
<line x1="680.38" y1="522.5" x2="680.38" y2="524.5" stroke="#2a2a2a" stroke-width="1" />
<line x1="437.5" y1="630.2" x2="441" y2="630.2" stroke="#2a2a2a" stroke-width="1" />
<line x1="683.5" y1="630.2" x2="680" y2="630.2" stroke="#2a2a2a" stroke-width="1" />
<line x1="437.5" y1="593.35" x2="441" y2="593.35" stroke="#2a2a2a" stroke-width="1" />
<line x1="683.5" y1="593.35" x2="680" y2="593.35" stroke="#2a2a2a" stroke-width="1" />
<line x1="437.5" y1="556.5" x2="441" y2="556.5" stroke="#2a2a2a" stroke-width="1" />
<line x1="683.5" y1="556.5" x2="680" y2="556.5" stroke="#2a2a2a" stroke-width="1" />
<line x1="437.5" y1="611.77" x2="439.5" y2="611.77" stroke="#2a2a2a" stroke-width="1" />
<line x1="683.5" y1="611.77" x2="681.5" y2="611.77" stroke="#2a2a2a" stroke-width="1" />
<line x1="437.5" y1="574.92" x2="439.5" y2="574.92" stroke="#2a2a2a" stroke-width="1" />
<line x1="683.5" y1="574.92" x2="681.5" y2="574.92" stroke="#2a2a2a" stroke-width="1" />
<line x1="437.5" y1="538.07" x2="439.5" y2="538.07" stroke="#2a2a2a" stroke-width="1" />
<line x1="683.5" y1="538.07" x2="681.5" y2="538.07" stroke="#2a2a2a" stroke-width="1" />
<text x="433.4" y="635" font-size="11.4" text-anchor="end" font-weight="normal" fill="#111" color="#111" >0.0</text>
<text x="433.4" y="598.15" font-size="11.4" text-anchor="end" font-weight="normal" fill="#111" color="#111" >5.2</text>
<text x="433.4" y="561.3" font-size="11.4" text-anchor="end" font-weight="normal" fill="#111" color="#111" >10.4</text>
<text x="454.5" y="646.2" font-size="11.2" text-anchor="middle" font-weight="normal" fill="#111" color="#111" >1E-5</text>
<text x="495.74" y="646.2" font-size="11.2" text-anchor="middle" font-weight="normal" fill="#111" color="#111" >1E-4</text>
<text x="536.98" y="646.2" font-size="11.2" text-anchor="middle" font-weight="normal" fill="#111" color="#111" >0.001</text>
<text x="578.22" y="646.2" font-size="11.2" text-anchor="middle" font-weight="normal" fill="#111" color="#111" >0.01</text>
<text x="619.46" y="646.2" font-size="11.2" text-anchor="middle" font-weight="normal" fill="#111" color="#111" >0.1</text>
<text x="660.7" y="646.2" font-size="11.2" text-anchor="middle" font-weight="normal" fill="#111" color="#111" >1</text>
<text x="438.6" y="572.6" font-size="8.3" text-anchor="start" font-weight="normal" fill="#222" color="#222" >1 Hz</text>
<text x="439.4" y="599.5" font-size="8.3" text-anchor="start" font-weight="normal" fill="#222" color="#222" >10 Hz</text>
<text x="439.4" y="627.3" font-size="8.3" text-anchor="start" font-weight="normal" fill="#222" color="#222" >10 kHz</text>
<text x="490.5" y="572.2" font-size="10.1" text-anchor="middle" font-weight="normal" fill="#111" color="#111" >Double Layer</text>
<text x="489.8" y="585.2" font-size="10.1" text-anchor="middle" font-weight="normal" fill="#111" color="#111" >Charging</text>
<line x1="500.5" y1="591.9" x2="490" y2="615.6" stroke="#222" stroke-width="0.7" />
<path d="M490,615.6 L490.16,611.29 L493.08,612.59 Z" fill="#222"/>
<line x1="500.5" y1="591.9" x2="510.9" y2="614.6" stroke="#222" stroke-width="0.7" />
<path d="M510.9,614.6 L507.78,611.63 L510.69,610.3 Z" fill="#222"/>
<text x="514.5" y="557.6" font-size="10.1" text-anchor="start" font-weight="normal" fill="#111" color="#111" >R<tspan font-size="7" dy="2.5">CT</tspan><tspan dy="-2.5"> M</tspan></text>
<line x1="532.7" y1="565.3" x2="544.1" y2="578.6" stroke="#222" stroke-width="0.7" />
<path d="M544.1,578.6 L540.28,576.6 L542.71,574.52 Z" fill="#222"/>
<line x1="532.7" y1="565.3" x2="529.3" y2="615.6" stroke="#222" stroke-width="0.7" stroke-dasharray="2.2 1.6"/>
<path d="M529.3,615.6 L527.97,611.5 L531.17,611.72 Z" fill="#222"/>
<text x="541.3" y="537.7" font-size="10.1" text-anchor="start" font-weight="normal" fill="#111" color="#111" >R<tspan font-size="7" dy="2.5">CT</tspan><tspan dy="-2.5"> M-O</tspan></text>
<line x1="561.6" y1="543.5" x2="577.8" y2="554.8" stroke="#222" stroke-width="0.7" />
<path d="M577.8,554.8 L573.6,553.82 L575.43,551.2 Z" fill="#222"/>
<line x1="561.6" y1="543.5" x2="564.1" y2="589" stroke="#222" stroke-width="0.7" stroke-dasharray="2.2 1.6"/>
<path d="M564.1,589 L562.28,585.09 L565.48,584.92 Z" fill="#222"/>
<line x1="632.8" y1="534.5" x2="655.6" y2="534.5" stroke="#000000" stroke-width="1.2" />
<text x="659.4" y="537.9" font-size="10" text-anchor="start" font-weight="normal" fill="#111" color="#111" >Pt 1</text>
<line x1="632.8" y1="548.2" x2="655.6" y2="548.2" stroke="#ff0000" stroke-width="1.2" />
<text x="659.4" y="551.6" font-size="10" text-anchor="start" font-weight="normal" fill="#111" color="#111" >Pt 2</text>
<line x1="632.8" y1="560.9" x2="655.6" y2="560.9" stroke="#22ee22" stroke-width="1.2" />
<text x="659.4" y="564.3" font-size="10" text-anchor="start" font-weight="normal" fill="#111" color="#111" >Pt 3</text>
<clipPath id="cf2"><rect x="436.5" y="648.5" width="244" height="119"/></clipPath>
<g clip-path="url(#cf2)">
<path d="M436,760.5 L436.4,760.5 L436.81,760.5 L437.21,760.5 L437.62,760.5 L438.02,760.5 L438.42,760.5 L438.83,760.5 L439.23,760.5 L439.63,760.5 L440.04,760.5 L440.44,760.5 L440.85,760.5 L441.25,760.5 L441.65,760.5 L442.06,760.5 L442.46,760.5 L442.86,760.5 L443.27,760.5 L443.67,760.5 L444.08,760.5 L444.48,760.5 L444.88,760.5 L445.29,760.5 L445.69,760.5 L446.1,760.5 L446.5,760.5 L446.9,760.5 L447.31,760.5 L447.71,760.5 L448.11,760.5 L448.52,760.5 L448.92,760.5 L449.33,760.5 L449.73,760.5 L450.13,760.5 L450.54,760.5 L450.94,760.5 L451.34,760.5 L451.75,760.5 L452.15,760.5 L452.56,760.5 L452.96,760.5 L453.36,760.5 L453.77,760.5 L454.17,760.5 L454.57,760.5 L454.98,760.5 L455.38,760.5 L455.79,760.5 L456.19,760.5 L456.59,760.5 L457,760.5 L457.4,760.5 L457.81,760.5 L458.21,760.5 L458.61,760.5 L459.02,760.5 L459.42,760.5 L459.82,760.5 L460.23,760.5 L460.63,760.5 L461.04,760.5 L461.44,760.5 L461.84,760.5 L462.25,760.5 L462.65,760.5 L463.05,760.5 L463.46,760.5 L463.86,760.5 L464.27,760.5 L464.67,760.5 L465.07,760.5 L465.48,760.5 L465.88,760.5 L466.28,760.5 L466.69,760.5 L467.09,760.5 L467.5,760.5 L467.9,760.5 L468.3,760.5 L468.71,760.5 L469.11,760.5 L469.52,760.5 L469.92,760.5 L470.32,760.5 L470.73,760.5 L471.13,760.5 L471.53,760.49 L471.94,760.49 L472.34,760.49 L472.75,760.49 L473.15,760.48 L473.55,760.48 L473.96,760.47 L474.36,760.46 L474.76,760.44 L475.17,760.43 L475.57,760.4 L475.98,760.38 L476.38,760.34 L476.78,760.3 L477.19,760.24 L477.59,760.17 L478,760.08 L478.4,759.97 L478.8,759.84 L479.21,759.68 L479.61,759.49 L480.01,759.26 L480.42,758.98 L480.82,758.65 L481.23,758.26 L481.63,757.8 L482.03,757.27 L482.44,756.66 L482.84,755.95 L483.24,755.14 L483.65,754.22 L484.05,753.19 L484.46,752.02 L484.86,750.73 L485.26,749.3 L485.67,747.73 L486.07,746.01 L486.48,744.16 L486.88,742.17 L487.28,740.04 L487.69,737.79 L488.09,735.43 L488.49,732.97 L488.9,730.43 L489.3,727.84 L489.71,725.21 L490.11,722.58 L490.51,719.97 L490.92,717.41 L491.32,714.93 L491.72,712.58 L492.13,710.37 L492.53,708.34 L492.94,706.52 L493.34,704.94 L493.74,703.62 L494.15,702.59 L494.55,701.85 L494.95,701.42 L495.36,701.3 L495.76,701.51 L496.17,702.03 L496.57,702.86 L496.97,703.98 L497.38,705.38 L497.78,707.03 L498.19,708.91 L498.59,710.99 L498.99,713.25 L499.4,715.64 L499.8,718.14 L500.2,720.72 L500.61,723.34 L501.01,725.98 L501.42,728.6 L501.82,731.18 L502.22,733.69 L502.63,736.12 L503.03,738.46 L503.43,740.67 L503.84,742.76 L504.24,744.71 L504.65,746.53 L505.05,748.2 L505.45,749.73 L505.86,751.12 L506.26,752.37 L506.66,753.5 L507.07,754.5 L507.47,755.39 L507.88,756.16 L508.28,756.84 L508.68,757.43 L509.09,757.94 L509.49,758.38 L509.9,758.75 L510.3,759.06 L510.7,759.32 L511.11,759.54 L511.51,759.72 L511.91,759.87 L512.32,759.98 L512.72,760.08 L513.13,760.15 L513.53,760.2 L513.93,760.24 L514.34,760.26 L514.74,760.26 L515.14,760.25 L515.55,760.22 L515.95,760.18 L516.36,760.11 L516.76,760.03 L517.16,759.91 L517.57,759.77 L517.97,759.6 L518.38,759.38 L518.78,759.11 L519.18,758.79 L519.59,758.41 L519.99,757.96 L520.39,757.42 L520.8,756.78 L521.2,756.05 L521.61,755.19 L522.01,754.2 L522.41,753.08 L522.82,751.8 L523.22,750.36 L523.62,748.74 L524.03,746.94 L524.43,744.95 L524.84,742.78 L525.24,740.41 L525.64,737.85 L526.05,735.11 L526.45,732.19 L526.86,729.11 L527.26,725.9 L527.66,722.57 L528.07,719.15 L528.47,715.67 L528.87,712.17 L529.28,708.69 L529.68,705.26 L530.09,701.94 L530.49,698.77 L530.89,695.78 L531.3,693.03 L531.7,690.56 L532.1,688.4 L532.51,686.58 L532.91,685.15 L533.32,684.11 L533.72,683.49 L534.12,683.3 L534.53,683.54 L534.93,684.21 L535.33,685.29 L535.74,686.77 L536.14,688.63 L536.55,690.83 L536.95,693.34 L537.35,696.12 L537.76,699.12 L538.16,702.32 L538.57,705.65 L538.97,709.09 L539.37,712.57 L539.78,716.07 L540.18,719.55 L540.58,722.96 L540.99,726.28 L541.39,729.48 L541.8,732.54 L542.2,735.43 L542.6,738.15 L543.01,740.69 L543.41,743.04 L543.81,745.19 L544.22,747.16 L544.62,748.94 L545.03,750.53 L545.43,751.95 L545.83,753.22 L546.24,754.33 L546.64,755.3 L547.04,756.14 L547.45,756.86 L547.85,757.49 L548.26,758.02 L548.66,758.46 L549.06,758.84 L549.47,759.15 L549.87,759.42 L550.28,759.63 L550.68,759.81 L551.08,759.95 L551.49,760.07 L551.89,760.16 L552.29,760.24 L552.7,760.29 L553.1,760.34 L553.51,760.38 L553.91,760.41 L554.31,760.43 L554.72,760.45 L555.12,760.46 L555.52,760.47 L555.93,760.48 L556.33,760.48 L556.74,760.49 L557.14,760.49 L557.54,760.49 L557.95,760.5 L558.35,760.5 L558.76,760.5 L559.16,760.5 L559.56,760.5 L559.97,760.5 L560.37,760.5 L560.77,760.5 L561.18,760.5 L561.58,760.5 L561.99,760.5 L562.39,760.5 L562.79,760.5 L563.2,760.5 L563.6,760.5 L564,760.5 L564.41,760.5 L564.81,760.5 L565.22,760.5 L565.62,760.5 L566.02,760.5 L566.43,760.5 L566.83,760.5 L567.23,760.5 L567.64,760.5 L568.04,760.5 L568.45,760.5 L568.85,760.5 L569.25,760.5 L569.66,760.5 L570.06,760.5 L570.47,760.5 L570.87,760.5 L571.27,760.5 L571.68,760.5 L572.08,760.5 L572.48,760.5 L572.89,760.5 L573.29,760.5 L573.7,760.5 L574.1,760.5 L574.5,760.5 L574.91,760.5 L575.31,760.5 L575.71,760.5 L576.12,760.5 L576.52,760.5 L576.93,760.5 L577.33,760.5 L577.73,760.5 L578.14,760.5 L578.54,760.5 L578.95,760.5 L579.35,760.5 L579.75,760.5 L580.16,760.5 L580.56,760.5 L580.96,760.5 L581.37,760.5 L581.77,760.5 L582.18,760.5 L582.58,760.5 L582.98,760.5 L583.39,760.5 L583.79,760.5 L584.19,760.5 L584.6,760.5 L585,760.5 L585.41,760.5 L585.81,760.5 L586.21,760.5 L586.62,760.5 L587.02,760.5 L587.42,760.5 L587.83,760.5 L588.23,760.5 L588.64,760.5 L589.04,760.5 L589.44,760.5 L589.85,760.5 L590.25,760.5 L590.66,760.5 L591.06,760.5 L591.46,760.5 L591.87,760.5 L592.27,760.5 L592.67,760.5 L593.08,760.5 L593.48,760.5 L593.89,760.5 L594.29,760.5 L594.69,760.5 L595.1,760.5 L595.5,760.5 L595.9,760.5 L596.31,760.5 L596.71,760.5 L597.12,760.5 L597.52,760.5 L597.92,760.5 L598.33,760.5 L598.73,760.5 L599.14,760.5 L599.54,760.5 L599.94,760.5 L600.35,760.5 L600.75,760.5 L601.15,760.5 L601.56,760.5 L601.96,760.5 L602.37,760.5 L602.77,760.5 L603.17,760.5 L603.58,760.5 L603.98,760.5 L604.38,760.5 L604.79,760.5 L605.19,760.5 L605.6,760.5 L606,760.5 L606.4,760.5 L606.81,760.5 L607.21,760.5 L607.62,760.5 L608.02,760.5 L608.42,760.5 L608.83,760.5 L609.23,760.5 L609.63,760.5 L610.04,760.5 L610.44,760.5 L610.85,760.5 L611.25,760.5 L611.65,760.5 L612.06,760.5 L612.46,760.5 L612.86,760.5 L613.27,760.5 L613.67,760.5 L614.08,760.5 L614.48,760.5 L614.88,760.5 L615.29,760.5 L615.69,760.5 L616.09,760.5 L616.5,760.5 L616.9,760.5 L617.31,760.5 L617.71,760.5 L618.11,760.5 L618.52,760.5 L618.92,760.5 L619.33,760.5 L619.73,760.5 L620.13,760.5 L620.54,760.5 L620.94,760.5 L621.34,760.5 L621.75,760.5 L622.15,760.5 L622.56,760.5 L622.96,760.5 L623.36,760.5 L623.77,760.5 L624.17,760.5 L624.57,760.5 L624.98,760.5 L625.38,760.5 L625.79,760.5 L626.19,760.5 L626.59,760.5 L627,760.5 L627.4,760.5 L627.8,760.5 L628.21,760.5 L628.61,760.5 L629.02,760.5 L629.42,760.5 L629.82,760.5 L630.23,760.5 L630.63,760.5 L631.04,760.5 L631.44,760.5 L631.84,760.5 L632.25,760.5 L632.65,760.5 L633.05,760.5 L633.46,760.5 L633.86,760.5 L634.27,760.5 L634.67,760.5 L635.07,760.5 L635.48,760.5 L635.88,760.5 L636.28,760.5 L636.69,760.5 L637.09,760.5 L637.5,760.5 L637.9,760.5" fill="none" stroke="#0000ff" stroke-width="1.2" stroke-linejoin="round" />
<path d="M436,760.5 L436.4,760.5 L436.81,760.5 L437.21,760.5 L437.62,760.5 L438.02,760.5 L438.42,760.5 L438.83,760.5 L439.23,760.5 L439.63,760.5 L440.04,760.5 L440.44,760.5 L440.85,760.5 L441.25,760.5 L441.65,760.5 L442.06,760.5 L442.46,760.5 L442.86,760.5 L443.27,760.5 L443.67,760.5 L444.08,760.5 L444.48,760.5 L444.88,760.5 L445.29,760.5 L445.69,760.5 L446.1,760.5 L446.5,760.5 L446.9,760.5 L447.31,760.5 L447.71,760.5 L448.11,760.5 L448.52,760.5 L448.92,760.5 L449.33,760.5 L449.73,760.5 L450.13,760.5 L450.54,760.5 L450.94,760.5 L451.34,760.5 L451.75,760.5 L452.15,760.5 L452.56,760.5 L452.96,760.5 L453.36,760.5 L453.77,760.5 L454.17,760.5 L454.57,760.5 L454.98,760.5 L455.38,760.5 L455.79,760.5 L456.19,760.5 L456.59,760.5 L457,760.5 L457.4,760.5 L457.81,760.5 L458.21,760.5 L458.61,760.5 L459.02,760.5 L459.42,760.5 L459.82,760.5 L460.23,760.5 L460.63,760.5 L461.04,760.5 L461.44,760.5 L461.84,760.5 L462.25,760.5 L462.65,760.5 L463.05,760.5 L463.46,760.5 L463.86,760.5 L464.27,760.5 L464.67,760.5 L465.07,760.5 L465.48,760.5 L465.88,760.5 L466.28,760.5 L466.69,760.5 L467.09,760.5 L467.5,760.5 L467.9,760.5 L468.3,760.5 L468.71,760.5 L469.11,760.5 L469.52,760.5 L469.92,760.5 L470.32,760.5 L470.73,760.5 L471.13,760.5 L471.53,760.5 L471.94,760.5 L472.34,760.5 L472.75,760.5 L473.15,760.5 L473.55,760.5 L473.96,760.5 L474.36,760.5 L474.76,760.5 L475.17,760.5 L475.57,760.5 L475.98,760.5 L476.38,760.5 L476.78,760.5 L477.19,760.5 L477.59,760.5 L478,760.5 L478.4,760.5 L478.8,760.5 L479.21,760.5 L479.61,760.5 L480.01,760.5 L480.42,760.5 L480.82,760.5 L481.23,760.5 L481.63,760.5 L482.03,760.5 L482.44,760.5 L482.84,760.5 L483.24,760.49 L483.65,760.49 L484.05,760.49 L484.46,760.48 L484.86,760.47 L485.26,760.46 L485.67,760.44 L486.07,760.42 L486.48,760.39 L486.88,760.35 L487.28,760.3 L487.69,760.24 L488.09,760.15 L488.49,760.04 L488.9,759.9 L489.3,759.73 L489.71,759.51 L490.11,759.24 L490.51,758.92 L490.92,758.52 L491.32,758.05 L491.72,757.49 L492.13,756.83 L492.53,756.07 L492.94,755.19 L493.34,754.19 L493.74,753.06 L494.15,751.81 L494.55,750.44 L494.95,748.94 L495.36,747.33 L495.76,745.63 L496.17,743.84 L496.57,742 L496.97,740.12 L497.38,738.24 L497.78,736.4 L498.19,734.62 L498.59,732.94 L498.99,731.4 L499.4,730.03 L499.8,728.86 L500.2,727.93 L500.61,727.24 L501.01,726.83 L501.42,726.7 L501.82,726.85 L502.22,727.29 L502.63,727.99 L503.03,728.94 L503.43,730.13 L503.84,731.51 L504.24,733.06 L504.65,734.75 L505.05,736.54 L505.45,738.39 L505.86,740.27 L506.26,742.14 L506.66,743.98 L507.07,745.76 L507.47,747.46 L507.88,749.06 L508.28,750.55 L508.68,751.91 L509.09,753.15 L509.49,754.27 L509.9,755.26 L510.3,756.13 L510.7,756.88 L511.11,757.53 L511.51,758.09 L511.91,758.55 L512.32,758.94 L512.72,759.27 L513.13,759.53 L513.53,759.74 L513.93,759.92 L514.34,760.05 L514.74,760.16 L515.14,760.24 L515.55,760.31 L515.95,760.36 L516.36,760.4 L516.76,760.42 L517.16,760.44 L517.57,760.46 L517.97,760.47 L518.38,760.48 L518.78,760.49 L519.18,760.49 L519.59,760.49 L519.99,760.5 L520.39,760.5 L520.8,760.5 L521.2,760.5 L521.61,760.5 L522.01,760.5 L522.41,760.5 L522.82,760.5 L523.22,760.5 L523.62,760.5 L524.03,760.5 L524.43,760.5 L524.84,760.5 L525.24,760.5 L525.64,760.5 L526.05,760.5 L526.45,760.5 L526.86,760.5 L527.26,760.5 L527.66,760.5 L528.07,760.5 L528.47,760.5 L528.87,760.5 L529.28,760.5 L529.68,760.5 L530.09,760.5 L530.49,760.5 L530.89,760.5 L531.3,760.5 L531.7,760.5 L532.1,760.5 L532.51,760.5 L532.91,760.5 L533.32,760.5 L533.72,760.5 L534.12,760.5 L534.53,760.5 L534.93,760.5 L535.33,760.5 L535.74,760.5 L536.14,760.5 L536.55,760.5 L536.95,760.5 L537.35,760.5 L537.76,760.5 L538.16,760.5 L538.57,760.5 L538.97,760.5 L539.37,760.5 L539.78,760.5 L540.18,760.5 L540.58,760.5 L540.99,760.5 L541.39,760.5 L541.8,760.5 L542.2,760.5 L542.6,760.5 L543.01,760.5 L543.41,760.5 L543.81,760.5 L544.22,760.5 L544.62,760.5 L545.03,760.5 L545.43,760.5 L545.83,760.5 L546.24,760.5 L546.64,760.5 L547.04,760.5 L547.45,760.5 L547.85,760.5 L548.26,760.5 L548.66,760.5 L549.06,760.5 L549.47,760.5 L549.87,760.5 L550.28,760.5 L550.68,760.5 L551.08,760.5 L551.49,760.5 L551.89,760.5 L552.29,760.5 L552.7,760.5 L553.1,760.5 L553.51,760.5 L553.91,760.5 L554.31,760.5 L554.72,760.5 L555.12,760.5 L555.52,760.5 L555.93,760.5 L556.33,760.5 L556.74,760.5 L557.14,760.5 L557.54,760.5 L557.95,760.5 L558.35,760.5 L558.76,760.5 L559.16,760.5 L559.56,760.5 L559.97,760.5 L560.37,760.5 L560.77,760.5 L561.18,760.5 L561.58,760.5 L561.99,760.5 L562.39,760.5 L562.79,760.5 L563.2,760.5 L563.6,760.5 L564,760.5 L564.41,760.5 L564.81,760.5 L565.22,760.5 L565.62,760.5 L566.02,760.5 L566.43,760.5 L566.83,760.5 L567.23,760.5 L567.64,760.5 L568.04,760.5 L568.45,760.5 L568.85,760.5 L569.25,760.5 L569.66,760.5 L570.06,760.5 L570.47,760.5 L570.87,760.5 L571.27,760.5 L571.68,760.5 L572.08,760.5 L572.48,760.5 L572.89,760.5 L573.29,760.5 L573.7,760.5 L574.1,760.5 L574.5,760.5 L574.91,760.5 L575.31,760.5 L575.71,760.5 L576.12,760.5 L576.52,760.5 L576.93,760.5 L577.33,760.5 L577.73,760.5 L578.14,760.5 L578.54,760.5 L578.95,760.5 L579.35,760.5 L579.75,760.5 L580.16,760.5 L580.56,760.5 L580.96,760.5 L581.37,760.5 L581.77,760.5 L582.18,760.5 L582.58,760.5 L582.98,760.5 L583.39,760.5 L583.79,760.5 L584.19,760.5 L584.6,760.5 L585,760.5 L585.41,760.5 L585.81,760.5 L586.21,760.5 L586.62,760.5 L587.02,760.5 L587.42,760.5 L587.83,760.5 L588.23,760.5 L588.64,760.5 L589.04,760.5 L589.44,760.5 L589.85,760.5 L590.25,760.5 L590.66,760.5 L591.06,760.5 L591.46,760.5 L591.87,760.5 L592.27,760.5 L592.67,760.5 L593.08,760.5 L593.48,760.5 L593.89,760.5 L594.29,760.5 L594.69,760.5 L595.1,760.5 L595.5,760.5 L595.9,760.5 L596.31,760.5 L596.71,760.5 L597.12,760.5 L597.52,760.5 L597.92,760.5 L598.33,760.5 L598.73,760.5 L599.14,760.5 L599.54,760.5 L599.94,760.5 L600.35,760.5 L600.75,760.5 L601.15,760.5 L601.56,760.5 L601.96,760.5 L602.37,760.5 L602.77,760.5 L603.17,760.5 L603.58,760.5 L603.98,760.5 L604.38,760.5 L604.79,760.5 L605.19,760.5 L605.6,760.5 L606,760.5 L606.4,760.5 L606.81,760.5 L607.21,760.5 L607.62,760.5 L608.02,760.5 L608.42,760.5 L608.83,760.5 L609.23,760.5 L609.63,760.5 L610.04,760.5 L610.44,760.5 L610.85,760.5 L611.25,760.5 L611.65,760.5 L612.06,760.5 L612.46,760.5 L612.86,760.5 L613.27,760.5 L613.67,760.5 L614.08,760.5 L614.48,760.5 L614.88,760.5 L615.29,760.5 L615.69,760.5 L616.09,760.5 L616.5,760.5 L616.9,760.5 L617.31,760.5 L617.71,760.5 L618.11,760.5 L618.52,760.5 L618.92,760.5 L619.33,760.5 L619.73,760.5 L620.13,760.5 L620.54,760.5 L620.94,760.5 L621.34,760.5 L621.75,760.5 L622.15,760.5 L622.56,760.5 L622.96,760.5 L623.36,760.5 L623.77,760.5 L624.17,760.5 L624.57,760.5 L624.98,760.5 L625.38,760.5 L625.79,760.5 L626.19,760.5 L626.59,760.5 L627,760.5 L627.4,760.5 L627.8,760.5 L628.21,760.5 L628.61,760.5 L629.02,760.5 L629.42,760.5 L629.82,760.5 L630.23,760.5 L630.63,760.5 L631.04,760.5 L631.44,760.5 L631.84,760.5 L632.25,760.5 L632.65,760.5 L633.05,760.5 L633.46,760.5 L633.86,760.5 L634.27,760.5 L634.67,760.5 L635.07,760.5 L635.48,760.5 L635.88,760.5 L636.28,760.5 L636.69,760.5 L637.09,760.5 L637.5,760.5 L637.9,760.5" fill="none" stroke="#ff00ff" stroke-width="1.5" stroke-linejoin="round" />
</g>
<rect x="436.5" y="648.5" width="244" height="119" fill="none" stroke="#2a2a2a" stroke-width="1"/>
<line x1="452.7" y1="767.5" x2="452.7" y2="764" stroke="#2a2a2a" stroke-width="1" />
<line x1="452.7" y1="648.5" x2="452.7" y2="652" stroke="#2a2a2a" stroke-width="1" />
<line x1="493.84" y1="767.5" x2="493.84" y2="764" stroke="#2a2a2a" stroke-width="1" />
<line x1="493.84" y1="648.5" x2="493.84" y2="652" stroke="#2a2a2a" stroke-width="1" />
<line x1="534.98" y1="767.5" x2="534.98" y2="764" stroke="#2a2a2a" stroke-width="1" />
<line x1="534.98" y1="648.5" x2="534.98" y2="652" stroke="#2a2a2a" stroke-width="1" />
<line x1="576.12" y1="767.5" x2="576.12" y2="764" stroke="#2a2a2a" stroke-width="1" />
<line x1="576.12" y1="648.5" x2="576.12" y2="652" stroke="#2a2a2a" stroke-width="1" />
<line x1="617.26" y1="767.5" x2="617.26" y2="764" stroke="#2a2a2a" stroke-width="1" />
<line x1="617.26" y1="648.5" x2="617.26" y2="652" stroke="#2a2a2a" stroke-width="1" />
<line x1="658.4" y1="767.5" x2="658.4" y2="764" stroke="#2a2a2a" stroke-width="1" />
<line x1="658.4" y1="648.5" x2="658.4" y2="652" stroke="#2a2a2a" stroke-width="1" />
<line x1="436.33" y1="767.5" x2="436.33" y2="765.5" stroke="#2a2a2a" stroke-width="1" />
<line x1="436.33" y1="648.5" x2="436.33" y2="650.5" stroke="#2a2a2a" stroke-width="1" />
<line x1="440.32" y1="767.5" x2="440.32" y2="765.5" stroke="#2a2a2a" stroke-width="1" />
<line x1="440.32" y1="648.5" x2="440.32" y2="650.5" stroke="#2a2a2a" stroke-width="1" />
<line x1="443.57" y1="767.5" x2="443.57" y2="765.5" stroke="#2a2a2a" stroke-width="1" />
<line x1="443.57" y1="648.5" x2="443.57" y2="650.5" stroke="#2a2a2a" stroke-width="1" />
<line x1="446.33" y1="767.5" x2="446.33" y2="765.5" stroke="#2a2a2a" stroke-width="1" />
<line x1="446.33" y1="648.5" x2="446.33" y2="650.5" stroke="#2a2a2a" stroke-width="1" />
<line x1="448.71" y1="767.5" x2="448.71" y2="765.5" stroke="#2a2a2a" stroke-width="1" />
<line x1="448.71" y1="648.5" x2="448.71" y2="650.5" stroke="#2a2a2a" stroke-width="1" />
<line x1="450.82" y1="767.5" x2="450.82" y2="765.5" stroke="#2a2a2a" stroke-width="1" />
<line x1="450.82" y1="648.5" x2="450.82" y2="650.5" stroke="#2a2a2a" stroke-width="1" />
<line x1="465.08" y1="767.5" x2="465.08" y2="765.5" stroke="#2a2a2a" stroke-width="1" />
<line x1="465.08" y1="648.5" x2="465.08" y2="650.5" stroke="#2a2a2a" stroke-width="1" />
<line x1="472.33" y1="767.5" x2="472.33" y2="765.5" stroke="#2a2a2a" stroke-width="1" />
<line x1="472.33" y1="648.5" x2="472.33" y2="650.5" stroke="#2a2a2a" stroke-width="1" />
<line x1="477.47" y1="767.5" x2="477.47" y2="765.5" stroke="#2a2a2a" stroke-width="1" />
<line x1="477.47" y1="648.5" x2="477.47" y2="650.5" stroke="#2a2a2a" stroke-width="1" />
<line x1="481.46" y1="767.5" x2="481.46" y2="765.5" stroke="#2a2a2a" stroke-width="1" />
<line x1="481.46" y1="648.5" x2="481.46" y2="650.5" stroke="#2a2a2a" stroke-width="1" />
<line x1="484.71" y1="767.5" x2="484.71" y2="765.5" stroke="#2a2a2a" stroke-width="1" />
<line x1="484.71" y1="648.5" x2="484.71" y2="650.5" stroke="#2a2a2a" stroke-width="1" />
<line x1="487.47" y1="767.5" x2="487.47" y2="765.5" stroke="#2a2a2a" stroke-width="1" />
<line x1="487.47" y1="648.5" x2="487.47" y2="650.5" stroke="#2a2a2a" stroke-width="1" />
<line x1="489.85" y1="767.5" x2="489.85" y2="765.5" stroke="#2a2a2a" stroke-width="1" />
<line x1="489.85" y1="648.5" x2="489.85" y2="650.5" stroke="#2a2a2a" stroke-width="1" />
<line x1="491.96" y1="767.5" x2="491.96" y2="765.5" stroke="#2a2a2a" stroke-width="1" />
<line x1="491.96" y1="648.5" x2="491.96" y2="650.5" stroke="#2a2a2a" stroke-width="1" />
<line x1="506.22" y1="767.5" x2="506.22" y2="765.5" stroke="#2a2a2a" stroke-width="1" />
<line x1="506.22" y1="648.5" x2="506.22" y2="650.5" stroke="#2a2a2a" stroke-width="1" />
<line x1="513.47" y1="767.5" x2="513.47" y2="765.5" stroke="#2a2a2a" stroke-width="1" />
<line x1="513.47" y1="648.5" x2="513.47" y2="650.5" stroke="#2a2a2a" stroke-width="1" />
<line x1="518.61" y1="767.5" x2="518.61" y2="765.5" stroke="#2a2a2a" stroke-width="1" />
<line x1="518.61" y1="648.5" x2="518.61" y2="650.5" stroke="#2a2a2a" stroke-width="1" />
<line x1="522.6" y1="767.5" x2="522.6" y2="765.5" stroke="#2a2a2a" stroke-width="1" />
<line x1="522.6" y1="648.5" x2="522.6" y2="650.5" stroke="#2a2a2a" stroke-width="1" />
<line x1="525.85" y1="767.5" x2="525.85" y2="765.5" stroke="#2a2a2a" stroke-width="1" />
<line x1="525.85" y1="648.5" x2="525.85" y2="650.5" stroke="#2a2a2a" stroke-width="1" />
<line x1="528.61" y1="767.5" x2="528.61" y2="765.5" stroke="#2a2a2a" stroke-width="1" />
<line x1="528.61" y1="648.5" x2="528.61" y2="650.5" stroke="#2a2a2a" stroke-width="1" />
<line x1="530.99" y1="767.5" x2="530.99" y2="765.5" stroke="#2a2a2a" stroke-width="1" />
<line x1="530.99" y1="648.5" x2="530.99" y2="650.5" stroke="#2a2a2a" stroke-width="1" />
<line x1="533.1" y1="767.5" x2="533.1" y2="765.5" stroke="#2a2a2a" stroke-width="1" />
<line x1="533.1" y1="648.5" x2="533.1" y2="650.5" stroke="#2a2a2a" stroke-width="1" />
<line x1="547.36" y1="767.5" x2="547.36" y2="765.5" stroke="#2a2a2a" stroke-width="1" />
<line x1="547.36" y1="648.5" x2="547.36" y2="650.5" stroke="#2a2a2a" stroke-width="1" />
<line x1="554.61" y1="767.5" x2="554.61" y2="765.5" stroke="#2a2a2a" stroke-width="1" />
<line x1="554.61" y1="648.5" x2="554.61" y2="650.5" stroke="#2a2a2a" stroke-width="1" />
<line x1="559.75" y1="767.5" x2="559.75" y2="765.5" stroke="#2a2a2a" stroke-width="1" />
<line x1="559.75" y1="648.5" x2="559.75" y2="650.5" stroke="#2a2a2a" stroke-width="1" />
<line x1="563.74" y1="767.5" x2="563.74" y2="765.5" stroke="#2a2a2a" stroke-width="1" />
<line x1="563.74" y1="648.5" x2="563.74" y2="650.5" stroke="#2a2a2a" stroke-width="1" />
<line x1="566.99" y1="767.5" x2="566.99" y2="765.5" stroke="#2a2a2a" stroke-width="1" />
<line x1="566.99" y1="648.5" x2="566.99" y2="650.5" stroke="#2a2a2a" stroke-width="1" />
<line x1="569.75" y1="767.5" x2="569.75" y2="765.5" stroke="#2a2a2a" stroke-width="1" />
<line x1="569.75" y1="648.5" x2="569.75" y2="650.5" stroke="#2a2a2a" stroke-width="1" />
<line x1="572.13" y1="767.5" x2="572.13" y2="765.5" stroke="#2a2a2a" stroke-width="1" />
<line x1="572.13" y1="648.5" x2="572.13" y2="650.5" stroke="#2a2a2a" stroke-width="1" />
<line x1="574.24" y1="767.5" x2="574.24" y2="765.5" stroke="#2a2a2a" stroke-width="1" />
<line x1="574.24" y1="648.5" x2="574.24" y2="650.5" stroke="#2a2a2a" stroke-width="1" />
<line x1="588.5" y1="767.5" x2="588.5" y2="765.5" stroke="#2a2a2a" stroke-width="1" />
<line x1="588.5" y1="648.5" x2="588.5" y2="650.5" stroke="#2a2a2a" stroke-width="1" />
<line x1="595.75" y1="767.5" x2="595.75" y2="765.5" stroke="#2a2a2a" stroke-width="1" />
<line x1="595.75" y1="648.5" x2="595.75" y2="650.5" stroke="#2a2a2a" stroke-width="1" />
<line x1="600.89" y1="767.5" x2="600.89" y2="765.5" stroke="#2a2a2a" stroke-width="1" />
<line x1="600.89" y1="648.5" x2="600.89" y2="650.5" stroke="#2a2a2a" stroke-width="1" />
<line x1="604.88" y1="767.5" x2="604.88" y2="765.5" stroke="#2a2a2a" stroke-width="1" />
<line x1="604.88" y1="648.5" x2="604.88" y2="650.5" stroke="#2a2a2a" stroke-width="1" />
<line x1="608.13" y1="767.5" x2="608.13" y2="765.5" stroke="#2a2a2a" stroke-width="1" />
<line x1="608.13" y1="648.5" x2="608.13" y2="650.5" stroke="#2a2a2a" stroke-width="1" />
<line x1="610.89" y1="767.5" x2="610.89" y2="765.5" stroke="#2a2a2a" stroke-width="1" />
<line x1="610.89" y1="648.5" x2="610.89" y2="650.5" stroke="#2a2a2a" stroke-width="1" />
<line x1="613.27" y1="767.5" x2="613.27" y2="765.5" stroke="#2a2a2a" stroke-width="1" />
<line x1="613.27" y1="648.5" x2="613.27" y2="650.5" stroke="#2a2a2a" stroke-width="1" />
<line x1="615.38" y1="767.5" x2="615.38" y2="765.5" stroke="#2a2a2a" stroke-width="1" />
<line x1="615.38" y1="648.5" x2="615.38" y2="650.5" stroke="#2a2a2a" stroke-width="1" />
<line x1="629.64" y1="767.5" x2="629.64" y2="765.5" stroke="#2a2a2a" stroke-width="1" />
<line x1="629.64" y1="648.5" x2="629.64" y2="650.5" stroke="#2a2a2a" stroke-width="1" />
<line x1="636.89" y1="767.5" x2="636.89" y2="765.5" stroke="#2a2a2a" stroke-width="1" />
<line x1="636.89" y1="648.5" x2="636.89" y2="650.5" stroke="#2a2a2a" stroke-width="1" />
<line x1="642.03" y1="767.5" x2="642.03" y2="765.5" stroke="#2a2a2a" stroke-width="1" />
<line x1="642.03" y1="648.5" x2="642.03" y2="650.5" stroke="#2a2a2a" stroke-width="1" />
<line x1="646.02" y1="767.5" x2="646.02" y2="765.5" stroke="#2a2a2a" stroke-width="1" />
<line x1="646.02" y1="648.5" x2="646.02" y2="650.5" stroke="#2a2a2a" stroke-width="1" />
<line x1="649.27" y1="767.5" x2="649.27" y2="765.5" stroke="#2a2a2a" stroke-width="1" />
<line x1="649.27" y1="648.5" x2="649.27" y2="650.5" stroke="#2a2a2a" stroke-width="1" />
<line x1="652.03" y1="767.5" x2="652.03" y2="765.5" stroke="#2a2a2a" stroke-width="1" />
<line x1="652.03" y1="648.5" x2="652.03" y2="650.5" stroke="#2a2a2a" stroke-width="1" />
<line x1="654.41" y1="767.5" x2="654.41" y2="765.5" stroke="#2a2a2a" stroke-width="1" />
<line x1="654.41" y1="648.5" x2="654.41" y2="650.5" stroke="#2a2a2a" stroke-width="1" />
<line x1="656.52" y1="767.5" x2="656.52" y2="765.5" stroke="#2a2a2a" stroke-width="1" />
<line x1="656.52" y1="648.5" x2="656.52" y2="650.5" stroke="#2a2a2a" stroke-width="1" />
<line x1="670.78" y1="767.5" x2="670.78" y2="765.5" stroke="#2a2a2a" stroke-width="1" />
<line x1="670.78" y1="648.5" x2="670.78" y2="650.5" stroke="#2a2a2a" stroke-width="1" />
<line x1="678.03" y1="767.5" x2="678.03" y2="765.5" stroke="#2a2a2a" stroke-width="1" />
<line x1="678.03" y1="648.5" x2="678.03" y2="650.5" stroke="#2a2a2a" stroke-width="1" />
<line x1="436.5" y1="760.5" x2="440" y2="760.5" stroke="#2a2a2a" stroke-width="1" />
<line x1="680.5" y1="760.5" x2="677" y2="760.5" stroke="#2a2a2a" stroke-width="1" />
<line x1="436.5" y1="704.3" x2="440" y2="704.3" stroke="#2a2a2a" stroke-width="1" />
<line x1="680.5" y1="704.3" x2="677" y2="704.3" stroke="#2a2a2a" stroke-width="1" />
<line x1="436.5" y1="648.1" x2="440" y2="648.1" stroke="#2a2a2a" stroke-width="1" />
<line x1="680.5" y1="648.1" x2="677" y2="648.1" stroke="#2a2a2a" stroke-width="1" />
<line x1="436.5" y1="732.4" x2="438.5" y2="732.4" stroke="#2a2a2a" stroke-width="1" />
<line x1="680.5" y1="732.4" x2="678.5" y2="732.4" stroke="#2a2a2a" stroke-width="1" />
<line x1="436.5" y1="676.2" x2="438.5" y2="676.2" stroke="#2a2a2a" stroke-width="1" />
<line x1="680.5" y1="676.2" x2="678.5" y2="676.2" stroke="#2a2a2a" stroke-width="1" />
<text x="432" y="764.5" font-size="11.2" text-anchor="end" font-weight="normal" fill="#111" color="#111" >0</text>
<text x="432" y="708.3" font-size="11.2" text-anchor="end" font-weight="normal" fill="#111" color="#111" >2</text>
<text x="432" y="652.1" font-size="11.2" text-anchor="end" font-weight="normal" fill="#111" color="#111" >4</text>
<text x="452.7" y="782.7" font-size="11.2" text-anchor="middle" font-weight="normal" fill="#111" color="#111" >1E-5</text>
<text x="493.84" y="782.7" font-size="11.2" text-anchor="middle" font-weight="normal" fill="#111" color="#111" >1E-4</text>
<text x="534.98" y="782.7" font-size="11.2" text-anchor="middle" font-weight="normal" fill="#111" color="#111" >0.001</text>
<text x="576.12" y="782.7" font-size="11.2" text-anchor="middle" font-weight="normal" fill="#111" color="#111" >0.01</text>
<text x="617.26" y="782.7" font-size="11.2" text-anchor="middle" font-weight="normal" fill="#111" color="#111" >0.1</text>
<text x="658.4" y="782.7" font-size="11.2" text-anchor="middle" font-weight="normal" fill="#111" color="#111" >1</text>
<text x="485.5" y="675.5" font-size="10.1" text-anchor="middle" font-weight="normal" fill="#111" color="#111" >Double Layer</text>
<text x="485.3" y="688.8" font-size="10.1" text-anchor="middle" font-weight="normal" fill="#111" color="#111" >Charging</text>
<line x1="479.6" y1="696" x2="486.6" y2="710.6" stroke="#222" stroke-width="0.7" />
<path d="M486.6,710.6 L483.43,707.68 L486.31,706.3 Z" fill="#222"/>
<text x="541.6" y="688.2" font-size="10.1" text-anchor="start" font-weight="normal" fill="#111" color="#111" >R<tspan font-size="7" dy="2.5">CT</tspan><tspan dy="-2.5"> M</tspan></text>
<line x1="556.4" y1="695" x2="546" y2="709.3" stroke="#222" stroke-width="0.7" />
<path d="M546,709.3 L547.06,705.12 L549.65,707.01 Z" fill="#222"/>
<line x1="630.5" y1="661.3" x2="654" y2="661.3" stroke="#0000ff" stroke-width="1.2" />
<text x="656.5" y="664.7" font-size="10" text-anchor="start" font-weight="normal" fill="#111" color="#111" >Pt 6</text>
<line x1="630.5" y1="674.5" x2="654" y2="674.5" stroke="#ff00ff" stroke-width="1.2" />
<text x="656.5" y="677.9" font-size="10" text-anchor="start" font-weight="normal" fill="#111" color="#111" >Pt 7</text>
<text x="558.2" y="801.6" font-size="17" text-anchor="middle" font-weight="normal" fill="#111" color="#111" ><tspan font-family="Liberation Serif" font-size="19">τ</tspan> / s</text>
<text transform="translate(408.8,645.8) rotate(-90)" font-size="17.2" text-anchor="middle" fill="#111" color="#111"><tspan font-family="Liberation Serif" font-size="19">γ</tspan> (<tspan font-family="Liberation Serif" font-size="19">τ</tspan>) / <tspan font-family="Liberation Serif" font-size="18.5">Ω</tspan> (x 10<tspan font-size="11.5" dy="-6.5">6</tspan><tspan dy="6.5">)</tspan></text>
<text x="394.7" y="529.5" font-size="21" text-anchor="start" font-weight="bold" fill="#000" color="#000" >(f)</text>
</svg></body></html>
